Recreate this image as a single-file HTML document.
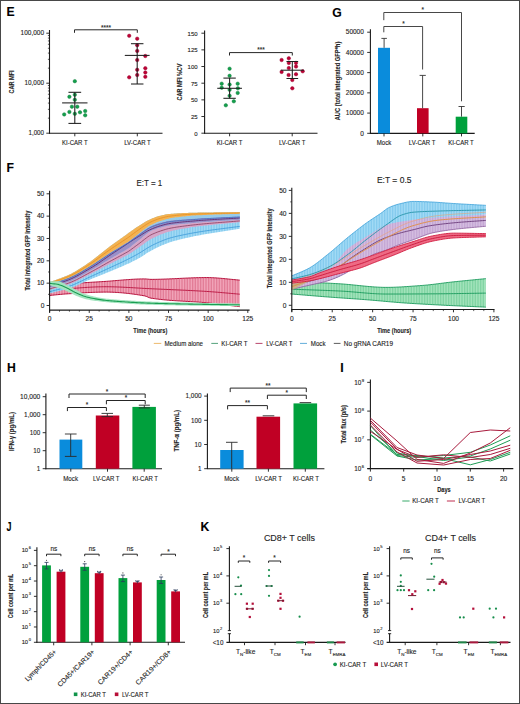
<!DOCTYPE html>
<html><head><meta charset="utf-8"><style>
html,body{margin:0;padding:0;background:#fff;}
svg{display:block;}
text{font-family:"Liberation Sans", sans-serif;stroke:#2a2a2a;stroke-width:0.12px;}
</style></head><body>
<svg width="520" height="704" viewBox="0 0 520 704">
<rect x="0" y="0" width="520" height="704" fill="#fff"/>
<text x="6.6" y="16.39" font-size="12.2" font-weight="bold" fill="#000">E</text>
<text x="332.2" y="16.79" font-size="12.2" font-weight="bold" fill="#000">G</text>
<text x="6.6" y="172.49" font-size="12.2" font-weight="bold" fill="#000">F</text>
<text x="6.9" y="372.29" font-size="12.2" font-weight="bold" fill="#000">H</text>
<text x="340.2" y="372.49" font-size="12.2" font-weight="bold" fill="#000">I</text>
<text x="6.5" y="531.29" font-size="12.2" font-weight="bold" fill="#000" textLength="5.0" lengthAdjust="spacingAndGlyphs">J</text>
<text x="200.4" y="530.79" font-size="12.2" font-weight="bold" fill="#000">K</text>
<line x1="49.5" y1="30" x2="49.5" y2="133.7" stroke="#1a1a1a" stroke-width="1.1" />
<line x1="49" y1="133.2" x2="162.5" y2="133.2" stroke="#1a1a1a" stroke-width="1.1" />
<line x1="46.3" y1="133.2" x2="49.5" y2="133.2" stroke="#1a1a1a" stroke-width="0.9" />
<line x1="47.9" y1="118.15" x2="49.5" y2="118.15" stroke="#1a1a1a" stroke-width="0.7" />
<line x1="47.9" y1="109.34" x2="49.5" y2="109.34" stroke="#1a1a1a" stroke-width="0.7" />
<line x1="47.9" y1="103.1" x2="49.5" y2="103.1" stroke="#1a1a1a" stroke-width="0.7" />
<line x1="47.9" y1="98.25" x2="49.5" y2="98.25" stroke="#1a1a1a" stroke-width="0.7" />
<line x1="47.9" y1="94.29" x2="49.5" y2="94.29" stroke="#1a1a1a" stroke-width="0.7" />
<line x1="47.9" y1="90.95" x2="49.5" y2="90.95" stroke="#1a1a1a" stroke-width="0.7" />
<line x1="47.9" y1="88.05" x2="49.5" y2="88.05" stroke="#1a1a1a" stroke-width="0.7" />
<line x1="47.9" y1="85.49" x2="49.5" y2="85.49" stroke="#1a1a1a" stroke-width="0.7" />
<line x1="46.3" y1="83.2" x2="49.5" y2="83.2" stroke="#1a1a1a" stroke-width="0.9" />
<line x1="47.9" y1="68.15" x2="49.5" y2="68.15" stroke="#1a1a1a" stroke-width="0.7" />
<line x1="47.9" y1="59.34" x2="49.5" y2="59.34" stroke="#1a1a1a" stroke-width="0.7" />
<line x1="47.9" y1="53.1" x2="49.5" y2="53.1" stroke="#1a1a1a" stroke-width="0.7" />
<line x1="47.9" y1="48.25" x2="49.5" y2="48.25" stroke="#1a1a1a" stroke-width="0.7" />
<line x1="47.9" y1="44.29" x2="49.5" y2="44.29" stroke="#1a1a1a" stroke-width="0.7" />
<line x1="47.9" y1="40.95" x2="49.5" y2="40.95" stroke="#1a1a1a" stroke-width="0.7" />
<line x1="47.9" y1="38.05" x2="49.5" y2="38.05" stroke="#1a1a1a" stroke-width="0.7" />
<line x1="47.9" y1="35.49" x2="49.5" y2="35.49" stroke="#1a1a1a" stroke-width="0.7" />
<line x1="46.3" y1="33.2" x2="49.5" y2="33.2" stroke="#1a1a1a" stroke-width="0.9" />
<text x="44" y="35.27" font-size="6.5" font-weight="normal" text-anchor="end" fill="#222" textLength="23.4" lengthAdjust="spacingAndGlyphs" >100,000</text>
<text x="44" y="85.28" font-size="6.5" font-weight="normal" text-anchor="end" fill="#222" textLength="19.5" lengthAdjust="spacingAndGlyphs" >10,000</text>
<text x="44" y="135.28" font-size="6.5" font-weight="normal" text-anchor="end" fill="#222" textLength="15.5" lengthAdjust="spacingAndGlyphs" >1,000</text>
<text x="11.2" y="84.45" font-size="7" font-weight="bold" text-anchor="middle" fill="#222" textLength="23" lengthAdjust="spacingAndGlyphs" transform="rotate(-90 11.2 82)" >CAR MFI</text>
<line x1="74.8" y1="133.2" x2="74.8" y2="136.3" stroke="#1a1a1a" stroke-width="0.9" />
<line x1="137.3" y1="133.2" x2="137.3" y2="136.3" stroke="#1a1a1a" stroke-width="0.9" />
<text x="74.8" y="144.68" font-size="6.5" font-weight="normal" text-anchor="middle" fill="#222" textLength="25.6" lengthAdjust="spacingAndGlyphs" >KI-CAR T</text>
<text x="137.5" y="144.68" font-size="6.5" font-weight="normal" text-anchor="middle" fill="#222" textLength="26.6" lengthAdjust="spacingAndGlyphs" >LV-CAR T</text>
<circle cx="74.8" cy="81.2" r="1.75" fill="#14a04c" stroke="#0f7a3c" stroke-width="0.45"/>
<circle cx="69.4" cy="96.8" r="1.75" fill="#14a04c" stroke="#0f7a3c" stroke-width="0.45"/>
<circle cx="74.8" cy="94.8" r="1.75" fill="#14a04c" stroke="#0f7a3c" stroke-width="0.45"/>
<circle cx="74.8" cy="99.8" r="1.75" fill="#14a04c" stroke="#0f7a3c" stroke-width="0.45"/>
<circle cx="71.9" cy="106.7" r="1.75" fill="#14a04c" stroke="#0f7a3c" stroke-width="0.45"/>
<circle cx="77.3" cy="106.7" r="1.75" fill="#14a04c" stroke="#0f7a3c" stroke-width="0.45"/>
<circle cx="69.4" cy="111.9" r="1.75" fill="#14a04c" stroke="#0f7a3c" stroke-width="0.45"/>
<circle cx="64.2" cy="114.4" r="1.75" fill="#14a04c" stroke="#0f7a3c" stroke-width="0.45"/>
<circle cx="74.8" cy="113.8" r="1.75" fill="#14a04c" stroke="#0f7a3c" stroke-width="0.45"/>
<circle cx="80" cy="112.3" r="1.75" fill="#14a04c" stroke="#0f7a3c" stroke-width="0.45"/>
<circle cx="85.2" cy="111" r="1.75" fill="#14a04c" stroke="#0f7a3c" stroke-width="0.45"/>
<circle cx="85.2" cy="115.3" r="1.75" fill="#14a04c" stroke="#0f7a3c" stroke-width="0.45"/>
<circle cx="129.2" cy="35.8" r="1.75" fill="#bd0336" stroke="#98002a" stroke-width="0.45"/>
<circle cx="137.2" cy="38.7" r="1.75" fill="#bd0336" stroke="#98002a" stroke-width="0.45"/>
<circle cx="137.2" cy="45.2" r="1.75" fill="#bd0336" stroke="#98002a" stroke-width="0.45"/>
<circle cx="137.2" cy="50.9" r="1.75" fill="#bd0336" stroke="#98002a" stroke-width="0.45"/>
<circle cx="145.3" cy="56" r="1.75" fill="#bd0336" stroke="#98002a" stroke-width="0.45"/>
<circle cx="137.2" cy="60" r="1.75" fill="#bd0336" stroke="#98002a" stroke-width="0.45"/>
<circle cx="137.2" cy="69.8" r="1.75" fill="#bd0336" stroke="#98002a" stroke-width="0.45"/>
<circle cx="137.2" cy="75" r="1.75" fill="#bd0336" stroke="#98002a" stroke-width="0.45"/>
<circle cx="145.3" cy="68.2" r="1.75" fill="#bd0336" stroke="#98002a" stroke-width="0.45"/>
<circle cx="145.3" cy="72.5" r="1.75" fill="#bd0336" stroke="#98002a" stroke-width="0.45"/>
<circle cx="145.3" cy="76.8" r="1.75" fill="#bd0336" stroke="#98002a" stroke-width="0.45"/>
<circle cx="129.2" cy="77.3" r="1.75" fill="#bd0336" stroke="#98002a" stroke-width="0.45"/>
<line x1="62.1" y1="102.9" x2="87.5" y2="102.9" stroke="#1e1e1e" stroke-width="1.05" />
<line x1="68.45" y1="92.3" x2="81.15" y2="92.3" stroke="#1e1e1e" stroke-width="1.05" />
<line x1="68.45" y1="123.4" x2="81.15" y2="123.4" stroke="#1e1e1e" stroke-width="1.05" />
<line x1="74.8" y1="92.3" x2="74.8" y2="123.4" stroke="#1e1e1e" stroke-width="1.05" />
<line x1="124.8" y1="55.4" x2="149.6" y2="55.4" stroke="#1e1e1e" stroke-width="1.05" />
<line x1="130.95" y1="43.7" x2="143.45" y2="43.7" stroke="#1e1e1e" stroke-width="1.05" />
<line x1="130.95" y1="84" x2="143.45" y2="84" stroke="#1e1e1e" stroke-width="1.05" />
<line x1="137.2" y1="43.7" x2="137.2" y2="84" stroke="#1e1e1e" stroke-width="1.05" />
<polyline points="74.5,32.8 74.5,29.8 137.3,29.8 137.3,32.8" fill="none" stroke="#262626" stroke-width="1" stroke-linejoin="round" />
<text x="106" y="29.5" font-size="6.4" font-weight="bold" text-anchor="middle" fill="#333" style="stroke:none">****</text>
<line x1="204.6" y1="30.4" x2="204.6" y2="133.7" stroke="#1a1a1a" stroke-width="1.1" />
<line x1="204.1" y1="133.2" x2="317.5" y2="133.2" stroke="#1a1a1a" stroke-width="1.1" />
<line x1="201.4" y1="133.2" x2="204.6" y2="133.2" stroke="#1a1a1a" stroke-width="0.9" />
<text x="197.6" y="135.6" font-size="6" font-weight="normal" text-anchor="end" fill="#222" >0</text>
<line x1="201.4" y1="116.53" x2="204.6" y2="116.53" stroke="#1a1a1a" stroke-width="0.9" />
<text x="197.6" y="118.93" font-size="6" font-weight="normal" text-anchor="end" fill="#222" >25</text>
<line x1="201.4" y1="99.87" x2="204.6" y2="99.87" stroke="#1a1a1a" stroke-width="0.9" />
<text x="197.6" y="102.27" font-size="6" font-weight="normal" text-anchor="end" fill="#222" >50</text>
<line x1="201.4" y1="83.2" x2="204.6" y2="83.2" stroke="#1a1a1a" stroke-width="0.9" />
<text x="197.6" y="85.6" font-size="6" font-weight="normal" text-anchor="end" fill="#222" >75</text>
<line x1="201.4" y1="66.53" x2="204.6" y2="66.53" stroke="#1a1a1a" stroke-width="0.9" />
<text x="197.6" y="68.93" font-size="6" font-weight="normal" text-anchor="end" fill="#222" >100</text>
<line x1="201.4" y1="49.87" x2="204.6" y2="49.87" stroke="#1a1a1a" stroke-width="0.9" />
<text x="197.6" y="52.27" font-size="6" font-weight="normal" text-anchor="end" fill="#222" >125</text>
<line x1="201.4" y1="33.2" x2="204.6" y2="33.2" stroke="#1a1a1a" stroke-width="0.9" />
<text x="197.6" y="35.6" font-size="6" font-weight="normal" text-anchor="end" fill="#222" >150</text>
<text x="179.2" y="84.45" font-size="7" font-weight="bold" text-anchor="middle" fill="#222" textLength="37" lengthAdjust="spacingAndGlyphs" transform="rotate(-90 179.2 82)" >CAR MFI %CV</text>
<line x1="229.6" y1="133.2" x2="229.6" y2="136.3" stroke="#1a1a1a" stroke-width="0.9" />
<line x1="292.2" y1="133.2" x2="292.2" y2="136.3" stroke="#1a1a1a" stroke-width="0.9" />
<text x="229.6" y="144.68" font-size="6.5" font-weight="normal" text-anchor="middle" fill="#222" textLength="25.6" lengthAdjust="spacingAndGlyphs" >KI-CAR T</text>
<text x="292.2" y="144.68" font-size="6.5" font-weight="normal" text-anchor="middle" fill="#222" textLength="26.6" lengthAdjust="spacingAndGlyphs" >LV-CAR T</text>
<circle cx="229.6" cy="68.7" r="1.75" fill="#14a04c" stroke="#0f7a3c" stroke-width="0.45"/>
<circle cx="229.6" cy="75.8" r="1.75" fill="#14a04c" stroke="#0f7a3c" stroke-width="0.45"/>
<circle cx="221.7" cy="83.7" r="1.75" fill="#14a04c" stroke="#0f7a3c" stroke-width="0.45"/>
<circle cx="221.7" cy="87.7" r="1.75" fill="#14a04c" stroke="#0f7a3c" stroke-width="0.45"/>
<circle cx="229.6" cy="84.6" r="1.75" fill="#14a04c" stroke="#0f7a3c" stroke-width="0.45"/>
<circle cx="229.6" cy="89.8" r="1.75" fill="#14a04c" stroke="#0f7a3c" stroke-width="0.45"/>
<circle cx="237.7" cy="83.7" r="1.75" fill="#14a04c" stroke="#0f7a3c" stroke-width="0.45"/>
<circle cx="237.9" cy="88.3" r="1.75" fill="#14a04c" stroke="#0f7a3c" stroke-width="0.45"/>
<circle cx="237.7" cy="92.9" r="1.75" fill="#14a04c" stroke="#0f7a3c" stroke-width="0.45"/>
<circle cx="229.6" cy="95.8" r="1.75" fill="#14a04c" stroke="#0f7a3c" stroke-width="0.45"/>
<circle cx="233.8" cy="101.3" r="1.75" fill="#14a04c" stroke="#0f7a3c" stroke-width="0.45"/>
<circle cx="225.8" cy="105.3" r="1.75" fill="#14a04c" stroke="#0f7a3c" stroke-width="0.45"/>
<circle cx="281.6" cy="60" r="1.75" fill="#bd0336" stroke="#98002a" stroke-width="0.45"/>
<circle cx="288.8" cy="58.3" r="1.75" fill="#bd0336" stroke="#98002a" stroke-width="0.45"/>
<circle cx="288.8" cy="62.9" r="1.75" fill="#bd0336" stroke="#98002a" stroke-width="0.45"/>
<circle cx="296" cy="62.9" r="1.75" fill="#bd0336" stroke="#98002a" stroke-width="0.45"/>
<circle cx="296" cy="66.6" r="1.75" fill="#bd0336" stroke="#98002a" stroke-width="0.45"/>
<circle cx="288.8" cy="68.1" r="1.75" fill="#bd0336" stroke="#98002a" stroke-width="0.45"/>
<circle cx="281.6" cy="71.9" r="1.75" fill="#bd0336" stroke="#98002a" stroke-width="0.45"/>
<circle cx="302.7" cy="71.3" r="1.75" fill="#bd0336" stroke="#98002a" stroke-width="0.45"/>
<circle cx="288.6" cy="75" r="1.75" fill="#bd0336" stroke="#98002a" stroke-width="0.45"/>
<circle cx="296" cy="74.2" r="1.75" fill="#bd0336" stroke="#98002a" stroke-width="0.45"/>
<circle cx="292.3" cy="80" r="1.75" fill="#bd0336" stroke="#98002a" stroke-width="0.45"/>
<circle cx="292.3" cy="88.3" r="1.75" fill="#bd0336" stroke="#98002a" stroke-width="0.45"/>
<line x1="217.25" y1="88.3" x2="241.95" y2="88.3" stroke="#1e1e1e" stroke-width="1.05" />
<line x1="223.4" y1="78.1" x2="235.8" y2="78.1" stroke="#1e1e1e" stroke-width="1.05" />
<line x1="223.4" y1="98.3" x2="235.8" y2="98.3" stroke="#1e1e1e" stroke-width="1.05" />
<line x1="229.6" y1="78.1" x2="229.6" y2="98.3" stroke="#1e1e1e" stroke-width="1.05" />
<line x1="280.8" y1="70.2" x2="303.8" y2="70.2" stroke="#1e1e1e" stroke-width="1.05" />
<line x1="286.45" y1="61.5" x2="298.15" y2="61.5" stroke="#1e1e1e" stroke-width="1.05" />
<line x1="286.45" y1="78.5" x2="298.15" y2="78.5" stroke="#1e1e1e" stroke-width="1.05" />
<line x1="292.3" y1="61.5" x2="292.3" y2="78.5" stroke="#1e1e1e" stroke-width="1.05" />
<polyline points="229.5,55.5 229.5,52.6 292.3,52.6 292.3,55.5" fill="none" stroke="#262626" stroke-width="1" stroke-linejoin="round" />
<text x="261" y="52.4" font-size="6.4" font-weight="bold" text-anchor="middle" fill="#333" style="stroke:none">***</text>
<line x1="370.4" y1="29.2" x2="370.4" y2="133.8" stroke="#1a1a1a" stroke-width="1.1" />
<line x1="369.9" y1="133.4" x2="474.7" y2="133.4" stroke="#1a1a1a" stroke-width="1.1" />
<line x1="367.2" y1="133.3" x2="370.4" y2="133.3" stroke="#1a1a1a" stroke-width="0.9" />
<text x="363.8" y="135.58" font-size="6.5" font-weight="normal" text-anchor="end" fill="#222" >0</text>
<line x1="367.2" y1="113.08" x2="370.4" y2="113.08" stroke="#1a1a1a" stroke-width="0.9" />
<text x="363.8" y="115.36" font-size="6.5" font-weight="normal" text-anchor="end" fill="#222" textLength="18" lengthAdjust="spacingAndGlyphs" >10000</text>
<line x1="367.2" y1="92.86" x2="370.4" y2="92.86" stroke="#1a1a1a" stroke-width="0.9" />
<text x="363.8" y="95.14" font-size="6.5" font-weight="normal" text-anchor="end" fill="#222" textLength="18" lengthAdjust="spacingAndGlyphs" >20000</text>
<line x1="367.2" y1="72.64" x2="370.4" y2="72.64" stroke="#1a1a1a" stroke-width="0.9" />
<text x="363.8" y="74.92" font-size="6.5" font-weight="normal" text-anchor="end" fill="#222" textLength="18" lengthAdjust="spacingAndGlyphs" >30000</text>
<line x1="367.2" y1="52.42" x2="370.4" y2="52.42" stroke="#1a1a1a" stroke-width="0.9" />
<text x="363.8" y="54.7" font-size="6.5" font-weight="normal" text-anchor="end" fill="#222" textLength="18" lengthAdjust="spacingAndGlyphs" >40000</text>
<line x1="367.2" y1="32.2" x2="370.4" y2="32.2" stroke="#1a1a1a" stroke-width="0.9" />
<text x="363.8" y="34.48" font-size="6.5" font-weight="normal" text-anchor="end" fill="#222" textLength="18" lengthAdjust="spacingAndGlyphs" >50000</text>
<text x="337.8" y="83.45" font-size="7" font-weight="bold" text-anchor="middle" fill="#222" textLength="78.6" lengthAdjust="spacingAndGlyphs" transform="rotate(-90 337.8 81)" >AUC (total integrated GFP*h)</text>
<rect x="378" y="47.8" width="12" height="85.6" fill="#0a8cdc"/>
<rect x="417" y="108.2" width="11.6" height="25.2" fill="#c00024"/>
<rect x="455.7" y="116.7" width="11.6" height="16.7" fill="#00a03c"/>
<line x1="384" y1="133.4" x2="384" y2="136.4" stroke="#1a1a1a" stroke-width="0.9" />
<line x1="422.8" y1="133.4" x2="422.8" y2="136.4" stroke="#1a1a1a" stroke-width="0.9" />
<line x1="461.5" y1="133.4" x2="461.5" y2="136.4" stroke="#1a1a1a" stroke-width="0.9" />
<line x1="384.1" y1="47.8" x2="384.1" y2="38.4" stroke="#333" stroke-width="0.9" />
<line x1="381.4" y1="38.4" x2="386.9" y2="38.4" stroke="#333" stroke-width="0.9" />
<line x1="422.6" y1="108.2" x2="422.6" y2="75.4" stroke="#333" stroke-width="0.9" />
<line x1="419.6" y1="75.4" x2="425.8" y2="75.4" stroke="#333" stroke-width="0.9" />
<line x1="461.5" y1="116.7" x2="461.5" y2="106.5" stroke="#333" stroke-width="0.9" />
<line x1="458.5" y1="106.5" x2="464.7" y2="106.5" stroke="#333" stroke-width="0.9" />
<polyline points="383.8,20.2 383.8,12.5 461.5,12.5 461.5,101.3" fill="none" stroke="#333" stroke-width="0.9" stroke-linejoin="round" />
<polyline points="383.8,32.3 383.8,26.5 422.6,26.5 422.6,69.5" fill="none" stroke="#333" stroke-width="0.9" stroke-linejoin="round" />
<text x="422.7" y="11.9" font-size="6.4" font-weight="bold" text-anchor="middle" fill="#333" style="stroke:none">*</text>
<text x="403.5" y="25.9" font-size="6.4" font-weight="bold" text-anchor="middle" fill="#333" style="stroke:none">*</text>
<text x="384" y="144.68" font-size="6.5" font-weight="normal" text-anchor="middle" fill="#222" textLength="14.5" lengthAdjust="spacingAndGlyphs" >Mock</text>
<text x="422.1" y="144.68" font-size="6.5" font-weight="normal" text-anchor="middle" fill="#222" textLength="26.6" lengthAdjust="spacingAndGlyphs" >LV-CAR T</text>
<text x="461" y="144.68" font-size="6.5" font-weight="normal" text-anchor="middle" fill="#222" textLength="25.6" lengthAdjust="spacingAndGlyphs" >KI-CAR T</text>
<defs><pattern id="pR" width="1.6" height="4" patternUnits="userSpaceOnUse"><rect width="1.6" height="4" fill="#f3a9bd"/><rect width="0.45" height="4" fill="#d0506f"/></pattern><pattern id="pB" width="1.6" height="4" patternUnits="userSpaceOnUse"><rect width="1.6" height="4" fill="#a6dcf6"/><rect width="0.45" height="4" fill="#62b8e6"/></pattern><pattern id="pG" width="1.6" height="4" patternUnits="userSpaceOnUse"><rect width="1.6" height="4" fill="#a8e6bf"/><rect width="0.45" height="4" fill="#58c287"/></pattern><pattern id="pP" width="1.6" height="4" patternUnits="userSpaceOnUse"><rect width="1.6" height="4" fill="#d6c0e2"/><rect width="0.45" height="4" fill="#b48fc8"/></pattern></defs>
<polygon points="49.5,288.07 51.09,287.72 52.67,287.34 54.26,286.95 55.84,286.55 57.43,286.15 59.01,285.77 60.6,285.4 62.18,285.06 63.77,284.76 65.36,284.49 66.94,284.28 68.53,284.09 70.11,283.92 71.7,283.76 73.28,283.6 74.87,283.46 76.46,283.32 78.04,283.18 79.63,283.06 81.21,282.94 82.8,282.82 84.38,282.71 85.97,282.61 87.55,282.5 89.14,282.4 90.73,282.31 92.31,282.21 93.9,282.12 95.48,282.02 97.07,281.93 98.65,281.83 100.24,281.73 101.82,281.63 103.41,281.53 105,281.43 106.58,281.32 108.17,281.2 109.75,281.08 111.34,280.96 112.92,280.83 114.51,280.7 116.1,280.56 117.68,280.43 119.27,280.3 120.85,280.16 122.44,280.03 124.02,279.9 125.61,279.78 127.19,279.66 128.78,279.55 130.37,279.44 131.95,279.34 133.54,279.25 135.12,279.16 136.71,279.09 138.29,279.03 139.88,278.98 141.46,278.95 143.05,278.92 144.64,278.92 146.22,278.99 147.81,279.14 149.39,279.29 150.98,279.36 152.56,279.36 154.15,279.35 155.74,279.33 157.32,279.3 158.91,279.26 160.49,279.22 162.08,279.18 163.66,279.12 165.25,279.07 166.83,279.01 168.42,278.94 170.01,278.88 171.59,278.81 173.18,278.73 174.76,278.66 176.35,278.58 177.93,278.51 179.52,278.43 181.1,278.35 182.69,278.28 184.28,278.2 185.86,278.13 187.45,278.06 189.03,277.99 190.62,277.93 192.2,277.87 193.79,277.81 195.38,277.76 196.96,277.71 198.55,277.67 200.13,277.64 201.72,277.61 203.3,277.59 204.89,277.58 206.47,277.57 208.06,277.59 209.65,277.62 211.23,277.67 212.82,277.74 214.4,277.82 215.99,277.92 217.57,278.03 219.16,278.16 220.74,278.29 222.33,278.43 223.92,278.58 225.5,278.74 227.09,278.89 228.67,279.06 230.26,279.22 231.84,279.38 233.43,279.54 235.02,279.7 236.6,279.85 238.19,279.99 239.77,280.13 239.77,306.66 238.19,306.47 236.6,306.28 235.02,306.09 233.43,305.9 231.84,305.71 230.26,305.52 228.67,305.33 227.09,305.14 225.5,304.95 223.92,304.76 222.33,304.57 220.74,304.38 219.16,304.2 217.57,304.01 215.99,303.83 214.4,303.65 212.82,303.48 211.23,303.31 209.65,303.14 208.06,302.98 206.47,302.82 204.89,302.67 203.3,302.52 201.72,302.39 200.13,302.26 198.55,302.14 196.96,302.03 195.38,301.92 193.79,301.82 192.2,301.71 190.62,301.62 189.03,301.52 187.45,301.43 185.86,301.34 184.28,301.25 182.69,301.15 181.1,301.06 179.52,300.97 177.93,300.87 176.35,300.77 174.76,300.66 173.18,300.55 171.59,300.44 170.01,300.32 168.42,300.19 166.83,300.06 165.25,299.91 163.66,299.76 162.08,299.6 160.49,299.42 158.91,299.24 157.32,299.04 155.74,298.84 154.15,298.61 152.56,298.38 150.98,298.13 149.39,297.69 147.81,297.02 146.22,296.35 144.64,295.89 143.05,295.62 141.46,295.35 139.88,295.09 138.29,294.84 136.71,294.59 135.12,294.36 133.54,294.14 131.95,293.92 130.37,293.72 128.78,293.53 127.19,293.35 125.61,293.18 124.02,293.02 122.44,292.87 120.85,292.73 119.27,292.61 117.68,292.5 116.1,292.4 114.51,292.32 112.92,292.24 111.34,292.19 109.75,292.14 108.17,292.11 106.58,292.1 105,292.1 103.41,292.11 101.82,292.13 100.24,292.15 98.65,292.19 97.07,292.23 95.48,292.28 93.9,292.34 92.31,292.4 90.73,292.47 89.14,292.54 87.55,292.62 85.97,292.7 84.38,292.79 82.8,292.88 81.21,292.97 79.63,293.07 78.04,293.17 76.46,293.27 74.87,293.37 73.28,293.47 71.7,293.58 70.11,293.68 68.53,293.78 66.94,293.88 65.36,293.99 63.77,294.11 62.18,294.24 60.6,294.38 59.01,294.53 57.43,294.68 55.84,294.84 54.26,295 52.67,295.15 51.09,295.3 49.5,295.45" fill="url(#pR)" stroke="none" stroke-width="1" fill-opacity="1.0"/>
<polyline points="49.5,288.07 51.09,287.72 52.67,287.34 54.26,286.95 55.84,286.55 57.43,286.15 59.01,285.77 60.6,285.4 62.18,285.06 63.77,284.76 65.36,284.49 66.94,284.28 68.53,284.09 70.11,283.92 71.7,283.76 73.28,283.6 74.87,283.46 76.46,283.32 78.04,283.18 79.63,283.06 81.21,282.94 82.8,282.82 84.38,282.71 85.97,282.61 87.55,282.5 89.14,282.4 90.73,282.31 92.31,282.21 93.9,282.12 95.48,282.02 97.07,281.93 98.65,281.83 100.24,281.73 101.82,281.63 103.41,281.53 105,281.43 106.58,281.32 108.17,281.2 109.75,281.08 111.34,280.96 112.92,280.83 114.51,280.7 116.1,280.56 117.68,280.43 119.27,280.3 120.85,280.16 122.44,280.03 124.02,279.9 125.61,279.78 127.19,279.66 128.78,279.55 130.37,279.44 131.95,279.34 133.54,279.25 135.12,279.16 136.71,279.09 138.29,279.03 139.88,278.98 141.46,278.95 143.05,278.92 144.64,278.92 146.22,278.99 147.81,279.14 149.39,279.29 150.98,279.36 152.56,279.36 154.15,279.35 155.74,279.33 157.32,279.3 158.91,279.26 160.49,279.22 162.08,279.18 163.66,279.12 165.25,279.07 166.83,279.01 168.42,278.94 170.01,278.88 171.59,278.81 173.18,278.73 174.76,278.66 176.35,278.58 177.93,278.51 179.52,278.43 181.1,278.35 182.69,278.28 184.28,278.2 185.86,278.13 187.45,278.06 189.03,277.99 190.62,277.93 192.2,277.87 193.79,277.81 195.38,277.76 196.96,277.71 198.55,277.67 200.13,277.64 201.72,277.61 203.3,277.59 204.89,277.58 206.47,277.57 208.06,277.59 209.65,277.62 211.23,277.67 212.82,277.74 214.4,277.82 215.99,277.92 217.57,278.03 219.16,278.16 220.74,278.29 222.33,278.43 223.92,278.58 225.5,278.74 227.09,278.89 228.67,279.06 230.26,279.22 231.84,279.38 233.43,279.54 235.02,279.7 236.6,279.85 238.19,279.99 239.77,280.13" fill="none" stroke="#b8103c" stroke-width="1" stroke-linejoin="round" stroke-opacity="1.0"/>
<polyline points="49.5,295.45 51.09,295.3 52.67,295.15 54.26,295 55.84,294.84 57.43,294.68 59.01,294.53 60.6,294.38 62.18,294.24 63.77,294.11 65.36,293.99 66.94,293.88 68.53,293.78 70.11,293.68 71.7,293.58 73.28,293.47 74.87,293.37 76.46,293.27 78.04,293.17 79.63,293.07 81.21,292.97 82.8,292.88 84.38,292.79 85.97,292.7 87.55,292.62 89.14,292.54 90.73,292.47 92.31,292.4 93.9,292.34 95.48,292.28 97.07,292.23 98.65,292.19 100.24,292.15 101.82,292.13 103.41,292.11 105,292.1 106.58,292.1 108.17,292.11 109.75,292.14 111.34,292.19 112.92,292.24 114.51,292.32 116.1,292.4 117.68,292.5 119.27,292.61 120.85,292.73 122.44,292.87 124.02,293.02 125.61,293.18 127.19,293.35 128.78,293.53 130.37,293.72 131.95,293.92 133.54,294.14 135.12,294.36 136.71,294.59 138.29,294.84 139.88,295.09 141.46,295.35 143.05,295.62 144.64,295.89 146.22,296.35 147.81,297.02 149.39,297.69 150.98,298.13 152.56,298.38 154.15,298.61 155.74,298.84 157.32,299.04 158.91,299.24 160.49,299.42 162.08,299.6 163.66,299.76 165.25,299.91 166.83,300.06 168.42,300.19 170.01,300.32 171.59,300.44 173.18,300.55 174.76,300.66 176.35,300.77 177.93,300.87 179.52,300.97 181.1,301.06 182.69,301.15 184.28,301.25 185.86,301.34 187.45,301.43 189.03,301.52 190.62,301.62 192.2,301.71 193.79,301.82 195.38,301.92 196.96,302.03 198.55,302.14 200.13,302.26 201.72,302.39 203.3,302.52 204.89,302.67 206.47,302.82 208.06,302.98 209.65,303.14 211.23,303.31 212.82,303.48 214.4,303.65 215.99,303.83 217.57,304.01 219.16,304.2 220.74,304.38 222.33,304.57 223.92,304.76 225.5,304.95 227.09,305.14 228.67,305.33 230.26,305.52 231.84,305.71 233.43,305.9 235.02,306.09 236.6,306.28 238.19,306.47 239.77,306.66" fill="none" stroke="#b8103c" stroke-width="1" stroke-linejoin="round" stroke-opacity="1.0"/>
<polyline points="49.5,291.65 51.09,291.4 52.67,291.13 54.26,290.86 55.84,290.58 57.43,290.3 59.01,290.03 60.6,289.78 62.18,289.54 63.77,289.32 65.36,289.13 66.94,288.97 68.53,288.83 70.11,288.69 71.7,288.55 73.28,288.41 74.87,288.28 76.46,288.15 78.04,288.02 79.63,287.9 81.21,287.78 82.8,287.66 84.38,287.55 85.97,287.45 87.55,287.35 89.14,287.25 90.73,287.16 92.31,287.08 93.9,287.01 95.48,286.94 97.07,286.89 98.65,286.84 100.24,286.8 101.82,286.77 103.41,286.75 105,286.74 106.58,286.74 108.17,286.75 109.75,286.76 111.34,286.79 112.92,286.83 114.51,286.87 116.1,286.92 117.68,286.97 119.27,287.03 120.85,287.1 122.44,287.17 124.02,287.25 125.61,287.33 127.19,287.41 128.78,287.5 130.37,287.59 131.95,287.68 133.54,287.77 135.12,287.87 136.71,287.96 138.29,288.06 139.88,288.15 141.46,288.24 143.05,288.33 144.64,288.42 146.22,288.51 147.81,288.59 149.39,288.67 150.98,288.75 152.56,288.82 154.15,288.89 155.74,288.96 157.32,289.03 158.91,289.1 160.49,289.17 162.08,289.24 163.66,289.31 165.25,289.38 166.83,289.45 168.42,289.52 170.01,289.59 171.59,289.66 173.18,289.73 174.76,289.8 176.35,289.87 177.93,289.94 179.52,290.01 181.1,290.08 182.69,290.16 184.28,290.23 185.86,290.31 187.45,290.38 189.03,290.46 190.62,290.54 192.2,290.62 193.79,290.7 195.38,290.79 196.96,290.87 198.55,290.96 200.13,291.05 201.72,291.14 203.3,291.23 204.89,291.33 206.47,291.43 208.06,291.53 209.65,291.64 211.23,291.75 212.82,291.87 214.4,291.99 215.99,292.11 217.57,292.24 219.16,292.37 220.74,292.51 222.33,292.65 223.92,292.79 225.5,292.93 227.09,293.07 228.67,293.21 230.26,293.36 231.84,293.5 233.43,293.64 235.02,293.78 236.6,293.92 238.19,294.06 239.77,294.2" fill="none" stroke="#b8103c" stroke-width="0.9" stroke-linejoin="round" stroke-opacity="1.0"/>
<polygon points="49.5,282.27 51.09,281.66 52.67,281.07 54.26,280.49 55.84,279.91 57.43,279.34 59.01,278.77 60.6,278.18 62.18,277.59 63.77,276.97 65.36,276.33 66.94,275.66 68.53,274.96 70.11,274.22 71.7,273.44 73.28,272.6 74.87,271.72 76.46,270.8 78.04,269.84 79.63,268.85 81.21,267.84 82.8,266.8 84.38,265.74 85.97,264.66 87.55,263.58 89.14,262.49 90.73,261.38 92.31,260.24 93.9,259.06 95.48,257.84 97.07,256.59 98.65,255.33 100.24,254.05 101.82,252.76 103.41,251.48 105,250.21 106.58,248.95 108.17,247.73 109.75,246.52 111.34,245.34 112.92,244.18 114.51,243.03 116.1,241.89 117.68,240.76 119.27,239.63 120.85,238.5 122.44,237.38 124.02,236.26 125.61,235.13 127.19,233.99 128.78,232.84 130.37,231.69 131.95,230.54 133.54,229.41 135.12,228.3 136.71,227.23 138.29,226.19 139.88,225.17 141.46,224.16 143.05,223.16 144.64,222.19 146.22,221.26 147.81,220.4 149.39,219.63 150.98,218.93 152.56,218.27 154.15,217.67 155.74,217.1 157.32,216.58 158.91,216.11 160.49,215.69 162.08,215.31 163.66,214.96 165.25,214.62 166.83,214.34 168.42,214.1 170.01,213.91 171.59,213.76 173.18,213.63 174.76,213.51 176.35,213.4 177.93,213.31 179.52,213.22 181.1,213.15 182.69,213.08 184.28,213.01 185.86,212.95 187.45,212.9 189.03,212.84 190.62,212.79 192.2,212.75 193.79,212.7 195.38,212.66 196.96,212.63 198.55,212.59 200.13,212.57 201.72,212.54 203.3,212.51 204.89,212.49 206.47,212.47 208.06,212.45 209.65,212.43 211.23,212.41 212.82,212.39 214.4,212.37 215.99,212.35 217.57,212.34 219.16,212.32 220.74,212.31 222.33,212.29 223.92,212.28 225.5,212.26 227.09,212.25 228.67,212.23 230.26,212.22 231.84,212.2 233.43,212.19 235.02,212.17 236.6,212.15 238.19,212.14 239.77,212.12 239.77,228.87 238.19,229.12 236.6,229.37 235.02,229.61 233.43,229.85 231.84,230.09 230.26,230.33 228.67,230.57 227.09,230.8 225.5,231.04 223.92,231.27 222.33,231.51 220.74,231.75 219.16,231.99 217.57,232.23 215.99,232.47 214.4,232.72 212.82,232.97 211.23,233.22 209.65,233.48 208.06,233.74 206.47,234.01 204.89,234.28 203.3,234.56 201.72,234.84 200.13,235.13 198.55,235.43 196.96,235.73 195.38,236.05 193.79,236.37 192.2,236.7 190.62,237.04 189.03,237.39 187.45,237.75 185.86,238.11 184.28,238.48 182.69,238.86 181.1,239.23 179.52,239.62 177.93,240.02 176.35,240.43 174.76,240.86 173.18,241.31 171.59,241.78 170.01,242.28 168.42,242.82 166.83,243.41 165.25,244.03 163.66,244.7 162.08,245.37 160.49,246.08 158.91,246.79 157.32,247.54 155.74,248.31 154.15,249.11 152.56,249.93 150.98,250.78 149.39,251.67 147.81,252.61 146.22,253.61 144.64,254.64 143.05,255.68 141.46,256.7 139.88,257.66 138.29,258.59 136.71,259.45 135.12,260.27 133.54,261.08 131.95,261.86 130.37,262.63 128.78,263.38 127.19,264.12 125.61,264.84 124.02,265.55 122.44,266.25 120.85,266.94 119.27,267.61 117.68,268.28 116.1,268.93 114.51,269.59 112.92,270.24 111.34,270.89 109.75,271.54 108.17,272.2 106.58,272.84 105,273.49 103.41,274.13 101.82,274.76 100.24,275.4 98.65,276.04 97.07,276.67 95.48,277.31 93.9,277.95 92.31,278.6 90.73,279.26 89.14,279.92 87.55,280.61 85.97,281.32 84.38,282.05 82.8,282.78 81.21,283.51 79.63,284.24 78.04,284.95 76.46,285.65 74.87,286.31 73.28,286.94 71.7,287.53 70.11,288.07 68.53,288.57 66.94,289.05 65.36,289.49 63.77,289.92 62.18,290.33 60.6,290.73 59.01,291.11 57.43,291.49 55.84,291.87 54.26,292.25 52.67,292.64 51.09,293.04 49.5,293.44" fill="url(#pB)" stroke="none" stroke-width="1" fill-opacity="1.0"/>
<polygon points="49.5,287.85 51.09,287.35 52.67,286.85 54.26,286.37 55.84,285.89 57.43,285.42 59.01,284.94 60.6,284.45 62.18,283.96 63.77,283.44 65.36,282.91 66.94,282.35 68.53,281.77 70.11,281.15 71.7,280.49 73.28,279.77 74.87,279.02 76.46,278.22 78.04,277.4 79.63,276.55 81.21,275.67 82.8,274.79 84.38,273.89 85.97,272.99 87.55,272.09 89.14,271.21 90.73,270.32 92.31,269.42 93.9,268.51 95.48,267.57 97.07,266.63 98.65,265.68 100.24,264.72 101.82,263.76 103.41,262.8 105,261.85 106.58,260.9 108.17,259.96 109.75,259.03 111.34,258.12 112.92,257.21 114.51,256.31 116.1,255.41 117.68,254.52 119.27,253.62 120.85,252.72 122.44,251.82 124.02,250.91 125.61,249.99 127.19,249.08 128.78,248.11 130.37,246.9 131.95,245.6 133.54,244.33 135.12,243.06 136.71,241.79 138.29,240.52 139.88,239.23 141.46,237.92 143.05,236.6 144.64,235.29 146.22,234 147.81,232.79 149.39,231.68 150.98,230.75 152.56,230.07 154.15,229.48 155.74,228.89 157.32,228.35 158.91,227.85 160.49,227.38 162.08,226.94 163.66,226.53 165.25,226.14 166.83,225.78 168.42,225.47 170.01,225.21 171.59,224.98 173.18,224.78 174.76,224.59 176.35,224.41 177.93,224.25 179.52,224.1 181.1,223.95 182.69,223.81 184.28,223.67 185.86,223.54 187.45,223.41 189.03,223.29 190.62,223.17 192.2,223.05 193.79,222.9 195.38,222.75 196.96,222.61 198.55,222.47 200.13,222.34 201.72,222.22 203.3,222.1 204.89,221.98 206.47,221.86 208.06,221.75 209.65,221.63 211.23,221.52 212.82,221.42 214.4,221.31 215.99,221.21 217.57,221.1 219.16,221 220.74,220.9 222.33,220.8 223.92,220.7 225.5,220.6 227.09,220.5 228.67,220.4 230.26,220.29 231.84,220.19 233.43,220.09 235.02,219.98 236.6,219.88 238.19,219.77 239.77,219.66 239.77,222.17 238.19,222.33 236.6,222.48 235.02,222.63 233.43,222.79 231.84,222.93 230.26,223.08 228.67,223.23 227.09,223.38 225.5,223.53 223.92,223.67 222.33,223.82 220.74,223.97 219.16,224.12 217.57,224.27 215.99,224.43 214.4,224.58 212.82,224.74 211.23,224.9 209.65,225.06 208.06,225.22 206.47,225.39 204.89,225.56 203.3,225.74 201.72,225.92 200.13,226.1 198.55,226.29 196.96,226.49 195.38,226.69 193.79,226.9 192.2,227.12 190.62,227.37 189.03,227.63 187.45,227.89 185.86,228.16 184.28,228.44 182.69,228.72 181.1,229.01 179.52,229.3 177.93,229.61 176.35,229.93 174.76,230.26 173.18,230.61 171.59,230.98 170.01,231.38 168.42,231.82 166.83,232.3 165.25,232.84 163.66,233.41 162.08,233.99 160.49,234.61 158.91,235.25 157.32,235.92 155.74,236.64 154.15,237.38 152.56,238.15 150.98,238.98 149.39,239.92 147.81,240.94 146.22,242.06 144.64,243.22 143.05,244.4 141.46,245.59 139.88,246.74 138.29,247.86 136.71,248.95 135.12,250.02 133.54,251.09 131.95,252.14 130.37,253.21 128.78,254.22 127.19,255.1 125.61,255.93 124.02,256.77 122.44,257.59 120.85,258.41 119.27,259.22 117.68,260.02 116.1,260.82 114.51,261.62 112.92,262.42 111.34,263.23 109.75,264.04 108.17,264.85 106.58,265.68 105,266.5 103.41,267.33 101.82,268.16 100.24,268.99 98.65,269.82 97.07,270.65 95.48,271.47 93.9,272.29 92.31,273.09 90.73,273.89 89.14,274.69 87.55,275.5 85.97,276.32 84.38,277.15 82.8,277.98 81.21,278.81 79.63,279.62 78.04,280.42 76.46,281.19 74.87,281.94 73.28,282.64 71.7,283.31 70.11,283.92 68.53,284.49 66.94,285.03 65.36,285.54 63.77,286.03 62.18,286.51 60.6,286.96 59.01,287.41 57.43,287.85 55.84,288.29 54.26,288.72 52.67,289.17 51.09,289.62 49.5,290.09" fill="#d6a6c8" stroke="none" stroke-width="1" fill-opacity="1.0"/>
<polygon points="49.5,284.5 51.09,283.96 52.67,283.42 54.26,282.9 55.84,282.38 57.43,281.87 59.01,281.36 60.6,280.84 62.18,280.3 63.77,279.75 65.36,279.18 66.94,278.59 68.53,277.96 70.11,277.29 71.7,276.59 73.28,275.83 74.87,275.03 76.46,274.19 78.04,273.32 79.63,272.42 81.21,271.49 82.8,270.55 84.38,269.6 85.97,268.63 87.55,267.66 89.14,266.7 90.73,265.73 92.31,264.74 93.9,263.72 95.48,262.67 97.07,261.61 98.65,260.54 100.24,259.45 101.82,258.36 103.41,257.28 105,256.2 106.58,255.14 108.17,254.1 109.75,253.08 111.34,252.08 112.92,251.09 114.51,250.11 116.1,249.14 117.68,248.17 119.27,247.21 120.85,246.25 122.44,245.29 124.02,244.33 125.61,243.36 127.19,242.4 128.78,241.39 130.37,240.24 131.95,239.03 133.54,237.86 135.12,236.69 136.71,235.54 138.29,234.4 139.88,233.26 141.46,232.11 143.05,230.96 144.64,229.83 146.22,228.73 147.81,227.7 149.39,226.77 150.98,225.95 152.56,225.28 154.15,224.67 155.74,224.09 157.32,223.55 158.91,223.05 160.49,222.6 162.08,222.18 163.66,221.78 165.25,221.41 166.83,221.08 168.42,220.79 170.01,220.55 171.59,220.35 173.18,220.17 174.76,220.01 176.35,219.85 177.93,219.71 179.52,219.58 181.1,219.46 182.69,219.35 184.28,219.23 185.86,219.13 187.45,219.02 189.03,218.92 190.62,218.83 192.2,218.73 193.79,218.62 195.38,218.51 196.96,218.4 198.55,218.3 200.13,218.21 201.72,218.11 203.3,218.02 204.89,217.94 206.47,217.85 208.06,217.77 209.65,217.69 211.23,217.61 212.82,217.53 214.4,217.46 215.99,217.38 217.57,217.31 219.16,217.24 220.74,217.17 222.33,217.1 223.92,217.02 225.5,216.95 227.09,216.88 228.67,216.81 230.26,216.74 231.84,216.67 233.43,216.6 235.02,216.53 236.6,216.46 238.19,216.38 239.77,216.31 239.77,219.66 238.19,219.77 236.6,219.88 235.02,219.98 233.43,220.09 231.84,220.19 230.26,220.29 228.67,220.4 227.09,220.5 225.5,220.6 223.92,220.7 222.33,220.8 220.74,220.9 219.16,221 217.57,221.1 215.99,221.21 214.4,221.31 212.82,221.42 211.23,221.52 209.65,221.63 208.06,221.75 206.47,221.86 204.89,221.98 203.3,222.1 201.72,222.22 200.13,222.34 198.55,222.47 196.96,222.61 195.38,222.75 193.79,222.9 192.2,223.05 190.62,223.17 189.03,223.29 187.45,223.41 185.86,223.54 184.28,223.67 182.69,223.81 181.1,223.95 179.52,224.1 177.93,224.25 176.35,224.41 174.76,224.59 173.18,224.78 171.59,224.98 170.01,225.21 168.42,225.47 166.83,225.78 165.25,226.14 163.66,226.53 162.08,226.94 160.49,227.38 158.91,227.85 157.32,228.35 155.74,228.89 154.15,229.48 152.56,230.07 150.98,230.75 149.39,231.68 147.81,232.79 146.22,234 144.64,235.29 143.05,236.6 141.46,237.92 139.88,239.23 138.29,240.52 136.71,241.79 135.12,243.06 133.54,244.33 131.95,245.6 130.37,246.9 128.78,248.11 127.19,249.08 125.61,249.99 124.02,250.91 122.44,251.82 120.85,252.72 119.27,253.62 117.68,254.52 116.1,255.41 114.51,256.31 112.92,257.21 111.34,258.12 109.75,259.03 108.17,259.96 106.58,260.9 105,261.85 103.41,262.8 101.82,263.76 100.24,264.72 98.65,265.68 97.07,266.63 95.48,267.57 93.9,268.51 92.31,269.42 90.73,270.32 89.14,271.21 87.55,272.09 85.97,272.99 84.38,273.89 82.8,274.79 81.21,275.67 79.63,276.55 78.04,277.4 76.46,278.22 74.87,279.02 73.28,279.77 71.7,280.49 70.11,281.15 68.53,281.77 66.94,282.35 65.36,282.91 63.77,283.44 62.18,283.96 60.6,284.45 59.01,284.94 57.43,285.42 55.84,285.89 54.26,286.37 52.67,286.85 51.09,287.35 49.5,287.85" fill="#9a90c8" stroke="none" stroke-width="1" fill-opacity="1.0"/>
<polygon points="49.5,284.5 51.09,283.96 52.67,283.42 54.26,282.9 55.84,282.38 57.43,281.87 59.01,281.36 60.6,280.84 62.18,280.3 63.77,279.75 65.36,279.18 66.94,278.59 68.53,277.96 70.11,277.29 71.7,276.59 73.28,275.83 74.87,275.03 76.46,274.19 78.04,273.32 79.63,272.42 81.21,271.49 82.8,270.55 84.38,269.6 85.97,268.63 87.55,267.66 89.14,266.7 90.73,265.73 92.31,264.74 93.9,263.72 95.48,262.67 97.07,261.61 98.65,260.54 100.24,259.45 101.82,258.36 103.41,257.28 105,256.2 106.58,255.14 108.17,254.1 109.75,253.08 111.34,252.08 112.92,251.09 114.51,250.11 116.1,249.14 117.68,248.17 119.27,247.21 120.85,246.25 122.44,245.29 124.02,244.33 125.61,243.36 127.19,242.41 128.78,241.39 130.37,240.18 131.95,238.89 133.54,237.64 135.12,236.4 136.71,235.18 138.29,233.97 139.88,232.75 141.46,231.53 143.05,230.31 144.64,229.11 146.22,227.94 147.81,226.84 149.39,225.84 150.98,224.94 152.56,224.15 154.15,223.43 155.74,222.74 157.32,222.09 158.91,221.5 160.49,220.94 162.08,220.43 163.66,219.94 165.25,219.48 166.83,219.05 168.42,218.68 170.01,218.36 171.59,218.08 173.18,217.83 174.76,217.59 176.35,217.36 177.93,217.15 179.52,216.95 181.1,216.76 182.69,216.58 184.28,216.4 185.86,216.24 187.45,216.07 189.03,215.92 190.62,215.76 192.2,215.62 193.79,215.52 195.38,215.44 196.96,215.35 198.55,215.27 200.13,215.2 201.72,215.13 203.3,215.06 204.89,214.99 206.47,214.92 208.06,214.86 209.65,214.8 211.23,214.74 212.82,214.68 214.4,214.62 215.99,214.57 217.57,214.51 219.16,214.46 220.74,214.41 222.33,214.35 223.92,214.3 225.5,214.25 227.09,214.2 228.67,214.15 230.26,214.1 231.84,214.05 233.43,214 235.02,213.95 236.6,213.9 238.19,213.85 239.77,213.79 239.77,216.31 238.19,216.38 236.6,216.46 235.02,216.53 233.43,216.6 231.84,216.67 230.26,216.74 228.67,216.81 227.09,216.88 225.5,216.95 223.92,217.02 222.33,217.1 220.74,217.17 219.16,217.24 217.57,217.31 215.99,217.38 214.4,217.46 212.82,217.53 211.23,217.61 209.65,217.69 208.06,217.77 206.47,217.85 204.89,217.94 203.3,218.02 201.72,218.11 200.13,218.21 198.55,218.3 196.96,218.4 195.38,218.51 193.79,218.62 192.2,218.73 190.62,218.83 189.03,218.92 187.45,219.02 185.86,219.13 184.28,219.23 182.69,219.35 181.1,219.46 179.52,219.58 177.93,219.71 176.35,219.85 174.76,220.01 173.18,220.17 171.59,220.35 170.01,220.55 168.42,220.79 166.83,221.08 165.25,221.41 163.66,221.78 162.08,222.18 160.49,222.6 158.91,223.05 157.32,223.55 155.74,224.09 154.15,224.67 152.56,225.28 150.98,225.95 149.39,226.77 147.81,227.7 146.22,228.73 144.64,229.83 143.05,230.96 141.46,232.11 139.88,233.26 138.29,234.4 136.71,235.54 135.12,236.69 133.54,237.86 131.95,239.03 130.37,240.24 128.78,241.39 127.19,242.4 125.61,243.36 124.02,244.33 122.44,245.29 120.85,246.25 119.27,247.21 117.68,248.17 116.1,249.14 114.51,250.11 112.92,251.09 111.34,252.08 109.75,253.08 108.17,254.1 106.58,255.14 105,256.2 103.41,257.28 101.82,258.36 100.24,259.45 98.65,260.54 97.07,261.61 95.48,262.67 93.9,263.72 92.31,264.74 90.73,265.73 89.14,266.7 87.55,267.66 85.97,268.63 84.38,269.6 82.8,270.55 81.21,271.49 79.63,272.42 78.04,273.32 76.46,274.19 74.87,275.03 73.28,275.83 71.7,276.59 70.11,277.29 68.53,277.96 66.94,278.59 65.36,279.18 63.77,279.75 62.18,280.3 60.6,280.84 59.01,281.36 57.43,281.87 55.84,282.38 54.26,282.9 52.67,283.42 51.09,283.96 49.5,284.5" fill="#96cbea" stroke="none" stroke-width="1" fill-opacity="1.0"/>
<polygon points="49.5,282.27 51.09,281.66 52.67,281.07 54.26,280.49 55.84,279.91 57.43,279.34 59.01,278.77 60.6,278.18 62.18,277.59 63.77,276.97 65.36,276.33 66.94,275.66 68.53,274.96 70.11,274.22 71.7,273.44 73.28,272.6 74.87,271.72 76.46,270.8 78.04,269.84 79.63,268.85 81.21,267.84 82.8,266.8 84.38,265.74 85.97,264.66 87.55,263.58 89.14,262.49 90.73,261.38 92.31,260.24 93.9,259.06 95.48,257.84 97.07,256.59 98.65,255.33 100.24,254.05 101.82,252.76 103.41,251.48 105,250.21 106.58,248.95 108.17,247.73 109.75,246.52 111.34,245.34 112.92,244.18 114.51,243.03 116.1,241.89 117.68,240.76 119.27,239.63 120.85,238.5 122.44,237.38 124.02,236.26 125.61,235.13 127.19,233.99 128.78,232.84 130.37,231.69 131.95,230.54 133.54,229.41 135.12,228.3 136.71,227.23 138.29,226.19 139.88,225.17 141.46,224.16 143.05,223.16 144.64,222.19 146.22,221.26 147.81,220.4 149.39,219.63 150.98,218.93 152.56,218.27 154.15,217.67 155.74,217.1 157.32,216.58 158.91,216.11 160.49,215.69 162.08,215.31 163.66,214.96 165.25,214.62 166.83,214.34 168.42,214.1 170.01,213.91 171.59,213.76 173.18,213.63 174.76,213.51 176.35,213.4 177.93,213.31 179.52,213.22 181.1,213.15 182.69,213.08 184.28,213.01 185.86,212.95 187.45,212.9 189.03,212.84 190.62,212.79 192.2,212.75 193.79,212.7 195.38,212.66 196.96,212.63 198.55,212.59 200.13,212.57 201.72,212.54 203.3,212.51 204.89,212.49 206.47,212.47 208.06,212.45 209.65,212.43 211.23,212.41 212.82,212.39 214.4,212.37 215.99,212.35 217.57,212.34 219.16,212.32 220.74,212.31 222.33,212.29 223.92,212.28 225.5,212.26 227.09,212.25 228.67,212.23 230.26,212.22 231.84,212.2 233.43,212.19 235.02,212.17 236.6,212.15 238.19,212.14 239.77,212.12 239.77,213.79 238.19,213.85 236.6,213.9 235.02,213.95 233.43,214 231.84,214.05 230.26,214.1 228.67,214.15 227.09,214.2 225.5,214.25 223.92,214.3 222.33,214.35 220.74,214.41 219.16,214.46 217.57,214.51 215.99,214.57 214.4,214.62 212.82,214.68 211.23,214.74 209.65,214.8 208.06,214.86 206.47,214.92 204.89,214.99 203.3,215.06 201.72,215.13 200.13,215.2 198.55,215.27 196.96,215.35 195.38,215.44 193.79,215.52 192.2,215.62 190.62,215.76 189.03,215.92 187.45,216.07 185.86,216.24 184.28,216.4 182.69,216.58 181.1,216.76 179.52,216.95 177.93,217.15 176.35,217.36 174.76,217.59 173.18,217.83 171.59,218.08 170.01,218.36 168.42,218.68 166.83,219.05 165.25,219.48 163.66,219.94 162.08,220.43 160.49,220.94 158.91,221.5 157.32,222.09 155.74,222.74 154.15,223.43 152.56,224.15 150.98,224.94 149.39,225.84 147.81,226.84 146.22,227.94 144.64,229.11 143.05,230.31 141.46,231.53 139.88,232.75 138.29,233.97 136.71,235.18 135.12,236.4 133.54,237.64 131.95,238.89 130.37,240.18 128.78,241.39 127.19,242.41 125.61,243.36 124.02,244.33 122.44,245.29 120.85,246.25 119.27,247.21 117.68,248.17 116.1,249.14 114.51,250.11 112.92,251.09 111.34,252.08 109.75,253.08 108.17,254.1 106.58,255.14 105,256.2 103.41,257.28 101.82,258.36 100.24,259.45 98.65,260.54 97.07,261.61 95.48,262.67 93.9,263.72 92.31,264.74 90.73,265.73 89.14,266.7 87.55,267.66 85.97,268.63 84.38,269.6 82.8,270.55 81.21,271.49 79.63,272.42 78.04,273.32 76.46,274.19 74.87,275.03 73.28,275.83 71.7,276.59 70.11,277.29 68.53,277.96 66.94,278.59 65.36,279.18 63.77,279.75 62.18,280.3 60.6,280.84 59.01,281.36 57.43,281.87 55.84,282.38 54.26,282.9 52.67,283.42 51.09,283.96 49.5,284.5" fill="#f3b252" stroke="none" stroke-width="1" fill-opacity="1.0"/>
<polyline points="49.5,283.38 51.09,282.81 52.67,282.24 54.26,281.69 55.84,281.15 57.43,280.61 59.01,280.06 60.6,279.51 62.18,278.95 63.77,278.36 65.36,277.76 66.94,277.13 68.53,276.46 70.11,275.76 71.7,275.01 73.28,274.22 74.87,273.38 76.46,272.5 78.04,271.58 79.63,270.64 81.21,269.67 82.8,268.67 84.38,267.67 85.97,266.65 87.55,265.62 89.14,264.6 90.73,263.56 92.31,262.49 93.9,261.39 95.48,260.26 97.07,259.1 98.65,257.93 100.24,256.75 101.82,255.56 103.41,254.38 105,253.21 106.58,252.05 108.17,250.91 109.75,249.8 111.34,248.71 112.92,247.64 114.51,246.57 116.1,245.51 117.68,244.47 119.27,243.42 120.85,242.38 122.44,241.33 124.02,240.29 125.61,239.24 127.19,238.2 128.78,237.12 130.37,235.93 131.95,234.72 133.54,233.53 135.12,232.35 136.71,231.21 138.29,230.08 139.88,228.96 141.46,227.85 143.05,226.73 144.64,225.65 146.22,224.6 147.81,223.62 149.39,222.74 150.98,221.93 152.56,221.21 154.15,220.55 155.74,219.92 157.32,219.33 158.91,218.81 160.49,218.32 162.08,217.87 163.66,217.45 165.25,217.05 166.83,216.69 168.42,216.39 170.01,216.13 171.59,215.92 173.18,215.73 174.76,215.55 176.35,215.38 177.93,215.23 179.52,215.09 181.1,214.95 182.69,214.83 184.28,214.71 185.86,214.59 187.45,214.48 189.03,214.38 190.62,214.28 192.2,214.18 193.79,214.11 195.38,214.05 196.96,213.99 198.55,213.93 200.13,213.88 201.72,213.83 203.3,213.79 204.89,213.74 206.47,213.7 208.06,213.65 209.65,213.61 211.23,213.57 212.82,213.53 214.4,213.5 215.99,213.46 217.57,213.42 219.16,213.39 220.74,213.36 222.33,213.32 223.92,213.29 225.5,213.26 227.09,213.22 228.67,213.19 230.26,213.16 231.84,213.13 233.43,213.09 235.02,213.06 236.6,213.03 238.19,212.99 239.77,212.96" fill="none" stroke="#e8962a" stroke-width="1" stroke-linejoin="round" stroke-opacity="1.0"/>
<polyline points="49.5,286.18 51.09,285.65 52.67,285.14 54.26,284.63 55.84,284.14 57.43,283.65 59.01,283.15 60.6,282.65 62.18,282.13 63.77,281.6 65.36,281.05 66.94,280.47 68.53,279.86 70.11,279.22 71.7,278.54 73.28,277.8 74.87,277.02 76.46,276.21 78.04,275.36 79.63,274.48 81.21,273.58 82.8,272.67 84.38,271.74 85.97,270.81 87.55,269.88 89.14,268.96 90.73,268.03 92.31,267.08 93.9,266.11 95.48,265.13 97.07,264.12 98.65,263.05 100.24,261.95 101.82,260.85 103.41,259.75 105,258.65 106.58,257.56 108.17,256.47 109.75,255.4 111.34,254.35 112.92,253.3 114.51,252.26 116.1,251.22 117.68,250.18 119.27,249.14 120.85,248.1 122.44,247.05 124.02,246 125.61,244.93 127.19,243.85 128.78,242.77 130.37,241.74 131.95,240.72 133.54,239.7 135.12,238.69 136.71,237.7 138.29,236.72 139.88,235.73 141.46,234.73 143.05,233.73 144.64,232.73 146.22,231.77 147.81,230.87 149.39,230.05 150.98,229.3 152.56,228.6 154.15,227.96 155.74,227.34 157.32,226.77 158.91,226.24 160.49,225.75 162.08,225.29 163.66,224.86 165.25,224.45 166.83,224.07 168.42,223.75 170.01,223.46 171.59,223.22 173.18,223 174.76,222.8 176.35,222.61 177.93,222.43 179.52,222.26 181.1,222.11 182.69,221.95 184.28,221.81 185.86,221.66 187.45,221.52 189.03,221.39 190.62,221.26 192.2,221.13 193.79,220.99 195.38,220.85 196.96,220.71 198.55,220.59 200.13,220.46 201.72,220.34 203.3,220.23 204.89,220.12 206.47,220.01 208.06,219.9 209.65,219.8 211.23,219.69 212.82,219.59 214.4,219.49 215.99,219.4 217.57,219.3 219.16,219.2 220.74,219.11 222.33,219.02 223.92,218.92 225.5,218.83 227.09,218.74 228.67,218.65 230.26,218.56 231.84,218.46 233.43,218.37 235.02,218.27 236.6,218.18 238.19,218.08 239.77,217.98" fill="none" stroke="#5a2a70" stroke-width="0.9" stroke-linejoin="round" stroke-opacity="1.0"/>
<polyline points="49.5,284.95 51.09,284.41 52.67,283.88 54.26,283.37 55.84,282.86 57.43,282.36 59.01,281.85 60.6,281.34 62.18,280.81 63.77,280.27 65.36,279.71 66.94,279.12 68.53,278.5 70.11,277.85 71.7,277.15 73.28,276.4 74.87,275.61 76.46,274.78 78.04,273.92 79.63,273.03 81.21,272.12 82.8,271.19 84.38,270.25 85.97,269.3 87.55,268.34 89.14,267.4 90.73,266.45 92.31,265.47 93.9,264.47 95.48,263.45 97.07,262.42 98.65,261.36 100.24,260.3 101.82,259.24 103.41,258.19 105,257.14 106.58,256.1 108.17,255.08 109.75,254.08 111.34,253.1 112.92,252.13 114.51,251.17 116.1,250.22 117.68,249.27 119.27,248.33 120.85,247.39 122.44,246.45 124.02,245.5 125.61,244.55 127.19,243.61 128.78,242.61 130.37,241.48 131.95,240.29 133.54,239.12 135.12,237.96 136.71,236.83 138.29,235.69 139.88,234.56 141.46,233.41 143.05,232.26 144.64,231.13 146.22,230.03 147.81,228.99 149.39,228.06 150.98,227.23 152.56,226.54 154.15,225.93 155.74,225.34 157.32,224.78 158.91,224.28 160.49,223.82 162.08,223.38 163.66,222.97 165.25,222.59 166.83,222.24 168.42,221.94 170.01,221.68 171.59,221.47 173.18,221.28 174.76,221.1 176.35,220.94 177.93,220.78 179.52,220.64 181.1,220.51 182.69,220.38 184.28,220.25 185.86,220.13 187.45,220.02 189.03,219.91 190.62,219.8 192.2,219.69 193.79,219.57 195.38,219.44 196.96,219.33 198.55,219.22 200.13,219.11 201.72,219.01 203.3,218.91 204.89,218.81 206.47,218.71 208.06,218.62 209.65,218.53 211.23,218.44 212.82,218.36 214.4,218.27 215.99,218.19 217.57,218.11 219.16,218.02 220.74,217.94 222.33,217.86 223.92,217.78 225.5,217.71 227.09,217.63 228.67,217.55 230.26,217.47 231.84,217.39 233.43,217.31 235.02,217.23 236.6,217.15 238.19,217.06 239.77,216.98" fill="none" stroke="#3a6fc0" stroke-width="0.8" stroke-linejoin="round" stroke-opacity="1.0"/>
<polyline points="49.5,288.97 51.09,288.49 52.67,288.01 54.26,287.55 55.84,287.09 57.43,286.63 59.01,286.17 60.6,285.71 62.18,285.23 63.77,284.74 65.36,284.23 66.94,283.69 68.53,283.13 70.11,282.53 71.7,281.9 73.28,281.21 74.87,280.48 76.46,279.71 78.04,278.91 79.63,278.09 81.21,277.24 82.8,276.39 84.38,275.52 85.97,274.66 87.55,273.8 89.14,272.95 90.73,272.11 92.31,271.26 93.9,270.4 95.48,269.52 97.07,268.64 98.65,267.75 100.24,266.86 101.82,265.96 103.41,265.07 105,264.18 106.58,263.29 108.17,262.41 109.75,261.53 111.34,260.67 112.92,259.82 114.51,258.96 116.1,258.12 117.68,257.27 119.27,256.42 120.85,255.56 122.44,254.7 124.02,253.84 125.61,252.96 127.19,252.09 128.78,251.16 130.37,250.05 131.95,248.87 133.54,247.71 135.12,246.54 136.71,245.37 138.29,244.19 139.88,242.98 141.46,241.75 143.05,240.5 144.64,239.26 146.22,238.03 147.81,236.86 149.39,235.8 150.98,234.86 152.56,234.11 154.15,233.43 155.74,232.76 157.32,232.14 158.91,231.55 160.49,231 162.08,230.47 163.66,229.97 165.25,229.49 166.83,229.04 168.42,228.65 170.01,228.29 171.59,227.98 173.18,227.69 174.76,227.42 176.35,227.17 177.93,226.93 179.52,226.7 181.1,226.48 182.69,226.27 184.28,226.06 185.86,225.85 187.45,225.65 189.03,225.46 190.62,225.27 192.2,225.08 193.79,224.9 195.38,224.72 196.96,224.55 198.55,224.38 200.13,224.22 201.72,224.07 203.3,223.92 204.89,223.77 206.47,223.63 208.06,223.48 209.65,223.35 211.23,223.21 212.82,223.08 214.4,222.95 215.99,222.82 217.57,222.69 219.16,222.56 220.74,222.44 222.33,222.31 223.92,222.19 225.5,222.06 227.09,221.94 228.67,221.81 230.26,221.69 231.84,221.56 233.43,221.44 235.02,221.31 236.6,221.18 238.19,221.05 239.77,220.92" fill="none" stroke="#8a3a5a" stroke-width="0.8" stroke-linejoin="round" stroke-opacity="1.0"/>
<polyline points="49.5,291.76 51.09,291.33 52.67,290.9 54.26,290.49 55.84,290.08 57.43,289.67 59.01,289.26 60.6,288.84 62.18,288.42 63.77,287.98 65.36,287.52 66.94,287.04 68.53,286.53 70.11,285.99 71.7,285.42 73.28,284.79 74.87,284.12 76.46,283.42 78.04,282.69 79.63,281.93 81.21,281.16 82.8,280.38 84.38,279.6 85.97,278.82 87.55,278.05 89.14,277.31 90.73,276.58 92.31,275.85 93.9,275.12 95.48,274.39 97.07,273.66 98.65,272.93 100.24,272.2 101.82,271.46 103.41,270.73 105,270 106.58,269.26 108.17,268.53 109.75,267.79 111.34,267.06 112.92,266.33 114.51,265.6 116.1,264.88 117.68,264.15 119.27,263.41 120.85,262.67 122.44,261.92 124.02,261.16 125.61,260.38 127.19,259.6 128.78,258.8 130.37,257.99 131.95,257.16 133.54,256.33 135.12,255.48 136.71,254.62 138.29,253.73 139.88,252.79 141.46,251.82 143.05,250.8 144.64,249.77 146.22,248.76 147.81,247.78 149.39,246.87 150.98,246 152.56,245.18 154.15,244.39 155.74,243.63 157.32,242.89 158.91,242.19 160.49,241.52 162.08,240.86 163.66,240.23 165.25,239.62 166.83,239.05 168.42,238.51 170.01,238.02 171.59,237.57 173.18,237.16 174.76,236.76 176.35,236.38 177.93,236.01 179.52,235.66 181.1,235.32 182.69,234.99 184.28,234.66 185.86,234.34 187.45,234.02 189.03,233.71 190.62,233.4 192.2,233.11 193.79,232.82 195.38,232.54 196.96,232.27 198.55,232 200.13,231.74 201.72,231.49 203.3,231.25 204.89,231.01 206.47,230.78 208.06,230.55 209.65,230.32 211.23,230.1 212.82,229.88 214.4,229.67 215.99,229.46 217.57,229.25 219.16,229.04 220.74,228.83 222.33,228.63 223.92,228.42 225.5,228.22 227.09,228.02 228.67,227.82 230.26,227.61 231.84,227.41 233.43,227.2 235.02,226.99 236.6,226.79 238.19,226.57 239.77,226.36" fill="none" stroke="#3a98d8" stroke-width="0.8" stroke-linejoin="round" stroke-opacity="1.0"/>
<polygon points="49.5,281.37 51.09,281.32 52.67,281.26 54.26,281.21 55.84,281.17 57.43,281.15 59.01,281.33 60.6,281.81 62.18,282.5 63.77,283.32 65.36,284.16 66.94,284.95 68.53,285.72 70.11,286.57 71.7,287.45 73.28,288.35 74.87,289.22 76.46,290.04 78.04,290.84 79.63,291.64 81.21,292.43 82.8,293.17 84.38,293.83 85.97,294.37 87.55,294.84 89.14,295.29 90.73,295.72 92.31,296.12 93.9,296.5 95.48,296.86 97.07,297.19 98.65,297.51 100.24,297.79 101.82,298.05 103.41,298.29 105,298.5 106.58,298.69 108.17,298.87 109.75,299.03 111.34,299.18 112.92,299.32 114.51,299.45 116.1,299.57 117.68,299.69 119.27,299.8 120.85,299.91 122.44,300.02 124.02,300.12 125.61,300.23 127.19,300.33 128.78,300.44 130.37,300.54 131.95,300.65 133.54,300.75 135.12,300.85 136.71,300.94 138.29,301.03 139.88,301.12 141.46,301.2 143.05,301.27 144.64,301.34 146.22,301.41 147.81,301.47 149.39,301.53 150.98,301.59 152.56,301.64 154.15,301.7 155.74,301.75 157.32,301.8 158.91,301.85 160.49,301.9 162.08,301.94 163.66,301.99 165.25,302.03 166.83,302.08 168.42,302.12 170.01,302.16 171.59,302.2 173.18,302.24 174.76,302.28 176.35,302.32 177.93,302.36 179.52,302.39 181.1,302.43 182.69,302.46 184.28,302.5 185.86,302.53 187.45,302.57 189.03,302.6 190.62,302.64 192.2,302.67 193.79,302.7 195.38,302.74 196.96,302.77 198.55,302.8 200.13,302.83 201.72,302.86 203.3,302.89 204.89,302.92 206.47,302.94 208.06,302.97 209.65,303 211.23,303.03 212.82,303.05 214.4,303.08 215.99,303.1 217.57,303.13 219.16,303.15 220.74,303.18 222.33,303.21 223.92,303.23 225.5,303.26 227.09,303.28 228.67,303.31 230.26,303.33 231.84,303.36 233.43,303.38 235.02,303.41 236.6,303.44 238.19,303.46 239.77,303.49 239.77,306.17 238.19,306.15 236.6,306.14 235.02,306.12 233.43,306.1 231.84,306.09 230.26,306.07 228.67,306.06 227.09,306.04 225.5,306.02 223.92,306.01 222.33,305.99 220.74,305.98 219.16,305.96 217.57,305.95 215.99,305.93 214.4,305.91 212.82,305.9 211.23,305.88 209.65,305.86 208.06,305.85 206.47,305.83 204.89,305.81 203.3,305.79 201.72,305.77 200.13,305.76 198.55,305.74 196.96,305.71 195.38,305.69 193.79,305.67 192.2,305.65 190.62,305.63 189.03,305.6 187.45,305.58 185.86,305.55 184.28,305.53 182.69,305.5 181.1,305.48 179.52,305.45 177.93,305.42 176.35,305.4 174.76,305.37 173.18,305.34 171.59,305.31 170.01,305.28 168.42,305.24 166.83,305.21 165.25,305.18 163.66,305.14 162.08,305.11 160.49,305.07 158.91,305.03 157.32,304.99 155.74,304.95 154.15,304.91 152.56,304.86 150.98,304.82 149.39,304.77 147.81,304.73 146.22,304.68 144.64,304.62 143.05,304.56 141.46,304.5 139.88,304.42 138.29,304.35 136.71,304.27 135.12,304.18 133.54,304.09 131.95,304 130.37,303.91 128.78,303.82 127.19,303.72 125.61,303.62 124.02,303.53 122.44,303.43 120.85,303.32 119.27,303.22 117.68,303.11 116.1,303 114.51,302.88 112.92,302.76 111.34,302.63 109.75,302.49 108.17,302.35 106.58,302.2 105,302.04 103.41,301.88 101.82,301.7 100.24,301.52 98.65,301.32 97.07,301.11 95.48,300.89 93.9,300.66 92.31,300.4 90.73,300.13 89.14,299.84 87.55,299.53 85.97,299.2 84.38,298.81 82.8,298.34 81.21,297.79 79.63,297.2 78.04,296.58 76.46,295.94 74.87,295.24 73.28,294.45 71.7,293.61 70.11,292.77 68.53,291.95 66.94,291.2 65.36,290.5 63.77,289.81 62.18,289.14 60.6,288.51 59.01,287.93 57.43,287.4 55.84,286.95 54.26,286.54 52.67,286.16 51.09,285.78 49.5,285.39" fill="#a4e4c0" stroke="none" stroke-width="1" fill-opacity="1.0"/>
<polyline points="49.5,283.38 51.09,283.55 52.67,283.7 54.26,283.85 55.84,284.04 57.43,284.28 59.01,284.65 60.6,285.19 62.18,285.85 63.77,286.58 65.36,287.34 66.94,288.07 68.53,288.84 70.11,289.67 71.7,290.53 73.28,291.4 74.87,292.23 76.46,292.99 78.04,293.71 79.63,294.43 81.21,295.11 82.8,295.75 84.38,296.32 85.97,296.79 87.55,297.19 89.14,297.57 90.73,297.93 92.31,298.26 93.9,298.58 95.48,298.88 97.07,299.15 98.65,299.41 100.24,299.65 101.82,299.88 103.41,300.08 105,300.27 106.58,300.45 108.17,300.61 109.75,300.76 111.34,300.9 112.92,301.04 114.51,301.17 116.1,301.29 117.68,301.4 119.27,301.51 120.85,301.62 122.44,301.72 124.02,301.82 125.61,301.93 127.19,302.03 128.78,302.13 130.37,302.23 131.95,302.33 133.54,302.42 135.12,302.51 136.71,302.6 138.29,302.69 139.88,302.77 141.46,302.85 143.05,302.92 144.64,302.98 146.22,303.04 147.81,303.1 149.39,303.15 150.98,303.2 152.56,303.25 154.15,303.3 155.74,303.35 157.32,303.4 158.91,303.44 160.49,303.48 162.08,303.53 163.66,303.57 165.25,303.61 166.83,303.64 168.42,303.68 170.01,303.72 171.59,303.76 173.18,303.79 174.76,303.82 176.35,303.86 177.93,303.89 179.52,303.92 181.1,303.95 182.69,303.98 184.28,304.01 185.86,304.04 187.45,304.07 189.03,304.1 190.62,304.13 192.2,304.16 193.79,304.19 195.38,304.21 196.96,304.24 198.55,304.27 200.13,304.29 201.72,304.32 203.3,304.34 204.89,304.36 206.47,304.39 208.06,304.41 209.65,304.43 211.23,304.45 212.82,304.47 214.4,304.5 215.99,304.52 217.57,304.54 219.16,304.56 220.74,304.58 222.33,304.6 223.92,304.62 225.5,304.64 227.09,304.66 228.67,304.68 230.26,304.7 231.84,304.72 233.43,304.74 235.02,304.76 236.6,304.79 238.19,304.81 239.77,304.83" fill="none" stroke="#1a9e52" stroke-width="1.1" stroke-linejoin="round" stroke-opacity="1.0"/>
<line x1="49.6" y1="190.8" x2="49.6" y2="312.4" stroke="#1a1a1a" stroke-width="1.1" />
<line x1="46.6" y1="305.5" x2="49.6" y2="305.5" stroke="#1a1a1a" stroke-width="0.9" />
<text x="44.3" y="307.81" font-size="6.6" font-weight="normal" text-anchor="end" fill="#222" >0</text>
<line x1="46.6" y1="283.16" x2="49.6" y2="283.16" stroke="#1a1a1a" stroke-width="0.9" />
<text x="44.3" y="285.47" font-size="6.6" font-weight="normal" text-anchor="end" fill="#222" >10</text>
<line x1="46.6" y1="260.82" x2="49.6" y2="260.82" stroke="#1a1a1a" stroke-width="0.9" />
<text x="44.3" y="263.13" font-size="6.6" font-weight="normal" text-anchor="end" fill="#222" >20</text>
<line x1="46.6" y1="238.48" x2="49.6" y2="238.48" stroke="#1a1a1a" stroke-width="0.9" />
<text x="44.3" y="240.79" font-size="6.6" font-weight="normal" text-anchor="end" fill="#222" >30</text>
<line x1="46.6" y1="216.14" x2="49.6" y2="216.14" stroke="#1a1a1a" stroke-width="0.9" />
<text x="44.3" y="218.45" font-size="6.6" font-weight="normal" text-anchor="end" fill="#222" >40</text>
<line x1="46.6" y1="193.8" x2="49.6" y2="193.8" stroke="#1a1a1a" stroke-width="0.9" />
<text x="44.3" y="196.11" font-size="6.6" font-weight="normal" text-anchor="end" fill="#222" >50</text>
<line x1="48" y1="294.33" x2="49.6" y2="294.33" stroke="#1a1a1a" stroke-width="0.7" />
<line x1="48" y1="271.99" x2="49.6" y2="271.99" stroke="#1a1a1a" stroke-width="0.7" />
<line x1="48" y1="249.65" x2="49.6" y2="249.65" stroke="#1a1a1a" stroke-width="0.7" />
<line x1="48" y1="227.31" x2="49.6" y2="227.31" stroke="#1a1a1a" stroke-width="0.7" />
<line x1="48" y1="204.97" x2="49.6" y2="204.97" stroke="#1a1a1a" stroke-width="0.7" />
<line x1="49.1" y1="310.1" x2="249.6" y2="310.1" stroke="#1a1a1a" stroke-width="1.1" />
<line x1="49.6" y1="310.1" x2="49.6" y2="312.9" stroke="#1a1a1a" stroke-width="0.9" />
<text x="49.6" y="321.31" font-size="6.6" font-weight="normal" text-anchor="middle" fill="#222" >0</text>
<line x1="59.51" y1="310.1" x2="59.51" y2="311.7" stroke="#1a1a1a" stroke-width="0.7" />
<line x1="69.42" y1="310.1" x2="69.42" y2="311.7" stroke="#1a1a1a" stroke-width="0.7" />
<line x1="79.33" y1="310.1" x2="79.33" y2="311.7" stroke="#1a1a1a" stroke-width="0.7" />
<line x1="89.24" y1="310.1" x2="89.24" y2="312.9" stroke="#1a1a1a" stroke-width="0.9" />
<text x="89.24" y="321.31" font-size="6.6" font-weight="normal" text-anchor="middle" fill="#222" >25</text>
<line x1="99.15" y1="310.1" x2="99.15" y2="311.7" stroke="#1a1a1a" stroke-width="0.7" />
<line x1="109.06" y1="310.1" x2="109.06" y2="311.7" stroke="#1a1a1a" stroke-width="0.7" />
<line x1="118.97" y1="310.1" x2="118.97" y2="311.7" stroke="#1a1a1a" stroke-width="0.7" />
<line x1="128.88" y1="310.1" x2="128.88" y2="312.9" stroke="#1a1a1a" stroke-width="0.9" />
<text x="128.88" y="321.31" font-size="6.6" font-weight="normal" text-anchor="middle" fill="#222" >50</text>
<line x1="138.79" y1="310.1" x2="138.79" y2="311.7" stroke="#1a1a1a" stroke-width="0.7" />
<line x1="148.7" y1="310.1" x2="148.7" y2="311.7" stroke="#1a1a1a" stroke-width="0.7" />
<line x1="158.61" y1="310.1" x2="158.61" y2="311.7" stroke="#1a1a1a" stroke-width="0.7" />
<line x1="168.52" y1="310.1" x2="168.52" y2="312.9" stroke="#1a1a1a" stroke-width="0.9" />
<text x="168.52" y="321.31" font-size="6.6" font-weight="normal" text-anchor="middle" fill="#222" >75</text>
<line x1="178.43" y1="310.1" x2="178.43" y2="311.7" stroke="#1a1a1a" stroke-width="0.7" />
<line x1="188.34" y1="310.1" x2="188.34" y2="311.7" stroke="#1a1a1a" stroke-width="0.7" />
<line x1="198.25" y1="310.1" x2="198.25" y2="311.7" stroke="#1a1a1a" stroke-width="0.7" />
<line x1="208.16" y1="310.1" x2="208.16" y2="312.9" stroke="#1a1a1a" stroke-width="0.9" />
<text x="208.16" y="321.31" font-size="6.6" font-weight="normal" text-anchor="middle" fill="#222" >100</text>
<line x1="218.07" y1="310.1" x2="218.07" y2="311.7" stroke="#1a1a1a" stroke-width="0.7" />
<line x1="227.98" y1="310.1" x2="227.98" y2="311.7" stroke="#1a1a1a" stroke-width="0.7" />
<line x1="237.89" y1="310.1" x2="237.89" y2="311.7" stroke="#1a1a1a" stroke-width="0.7" />
<line x1="247.8" y1="310.1" x2="247.8" y2="312.9" stroke="#1a1a1a" stroke-width="0.9" />
<text x="247.8" y="321.31" font-size="6.6" font-weight="normal" text-anchor="middle" fill="#222" >125</text>
<text x="149.4" y="185.57" font-size="8.2" font-weight="normal" text-anchor="middle" fill="#222" textLength="25.8" lengthAdjust="spacingAndGlyphs" >E:T = 1</text>
<text x="27.9" y="253.05" font-size="7" font-weight="bold" text-anchor="middle" fill="#222" textLength="80" lengthAdjust="spacingAndGlyphs" transform="rotate(-90 27.9 250.6)" >Total integrated GFP intensity</text>
<text x="150.3" y="333.13" font-size="7.8" font-weight="bold" text-anchor="middle" fill="#222" textLength="34" lengthAdjust="spacingAndGlyphs" >Time (hours)</text>
<polygon points="291.8,288.29 293.42,287.92 295.03,287.54 296.65,287.16 298.27,286.78 299.88,286.4 301.5,286.03 303.12,285.66 304.73,285.31 306.35,284.92 307.97,284.49 309.58,284.05 311.2,283.63 312.82,283.26 314.44,282.98 316.05,282.81 317.67,282.78 319.29,282.8 320.9,282.83 322.52,282.88 324.14,282.94 325.75,283.01 327.37,283.09 328.99,283.18 330.6,283.27 332.22,283.36 333.84,283.46 335.45,283.55 337.07,283.65 338.69,283.73 340.3,283.83 341.92,283.94 343.54,284.06 345.15,284.19 346.77,284.33 348.39,284.48 350,284.63 351.62,284.79 353.24,284.95 354.86,285.11 356.47,285.28 358.09,285.45 359.71,285.61 361.32,285.78 362.94,285.94 364.56,286.1 366.17,286.26 367.79,286.41 369.41,286.55 371.02,286.69 372.64,286.81 374.26,286.93 375.87,287.03 377.49,287.13 379.11,287.21 380.72,287.27 382.34,287.32 383.96,287.36 385.57,287.37 387.19,287.37 388.81,287.36 390.42,287.33 392.04,287.3 393.66,287.25 395.28,287.19 396.89,287.13 398.51,287.06 400.13,286.97 401.74,286.89 403.36,286.79 404.98,286.69 406.59,286.59 408.21,286.48 409.83,286.37 411.44,286.25 413.06,286.13 414.68,286.01 416.29,285.89 417.91,285.77 419.53,285.65 421.14,285.54 422.76,285.41 424.38,285.28 425.99,285.13 427.61,284.97 429.23,284.79 430.84,284.62 432.46,284.43 434.08,284.24 435.7,284.04 437.31,283.84 438.93,283.63 440.55,283.42 442.16,283.22 443.78,283.01 445.4,282.81 447.01,282.61 448.63,282.41 450.25,282.22 451.86,282.04 453.48,281.86 455.1,281.69 456.71,281.52 458.33,281.35 459.95,281.19 461.56,281.03 463.18,280.86 464.8,280.7 466.41,280.54 468.03,280.38 469.65,280.22 471.26,280.07 472.88,279.91 474.5,279.75 476.12,279.59 477.73,279.44 479.35,279.28 480.97,279.12 482.58,278.96 484.2,278.8 485.82,278.64 485.82,307.14 484.2,307.07 482.58,306.99 480.97,306.92 479.35,306.85 477.73,306.78 476.12,306.71 474.5,306.64 472.88,306.56 471.26,306.49 469.65,306.42 468.03,306.35 466.41,306.28 464.8,306.21 463.18,306.14 461.56,306.06 459.95,305.99 458.33,305.92 456.71,305.84 455.1,305.77 453.48,305.69 451.86,305.62 450.25,305.54 448.63,305.46 447.01,305.38 445.4,305.3 443.78,305.22 442.16,305.14 440.55,305.05 438.93,304.97 437.31,304.89 435.7,304.8 434.08,304.72 432.46,304.63 430.84,304.55 429.23,304.46 427.61,304.37 425.99,304.28 424.38,304.19 422.76,304.1 421.14,304.01 419.53,303.92 417.91,303.82 416.29,303.73 414.68,303.63 413.06,303.53 411.44,303.43 409.83,303.32 408.21,303.22 406.59,303.11 404.98,303 403.36,302.89 401.74,302.77 400.13,302.65 398.51,302.52 396.89,302.39 395.28,302.26 393.66,302.12 392.04,301.98 390.42,301.84 388.81,301.69 387.19,301.55 385.57,301.4 383.96,301.25 382.34,301.11 380.72,300.96 379.11,300.82 377.49,300.67 375.87,300.53 374.26,300.39 372.64,300.25 371.02,300.11 369.41,299.98 367.79,299.85 366.17,299.72 364.56,299.6 362.94,299.48 361.32,299.36 359.71,299.24 358.09,299.12 356.47,299.01 354.86,298.89 353.24,298.78 351.62,298.67 350,298.56 348.39,298.44 346.77,298.33 345.15,298.22 343.54,298.11 341.92,298 340.3,297.88 338.69,297.77 337.07,297.66 335.45,297.54 333.84,297.42 332.22,297.31 330.6,297.19 328.99,297.06 327.37,296.94 325.75,296.82 324.14,296.69 322.52,296.56 320.9,296.43 319.29,296.3 317.67,296.17 316.05,296.04 314.44,295.91 312.82,295.78 311.2,295.64 309.58,295.51 307.97,295.38 306.35,295.24 304.73,295.11 303.12,294.97 301.5,294.84 299.88,294.7 298.27,294.57 296.65,294.44 295.03,294.3 293.42,294.17 291.8,294.04" fill="url(#pG)" stroke="none" stroke-width="1" fill-opacity="1.0"/>
<polyline points="291.8,288.29 293.42,287.92 295.03,287.54 296.65,287.16 298.27,286.78 299.88,286.4 301.5,286.03 303.12,285.66 304.73,285.31 306.35,284.92 307.97,284.49 309.58,284.05 311.2,283.63 312.82,283.26 314.44,282.98 316.05,282.81 317.67,282.78 319.29,282.8 320.9,282.83 322.52,282.88 324.14,282.94 325.75,283.01 327.37,283.09 328.99,283.18 330.6,283.27 332.22,283.36 333.84,283.46 335.45,283.55 337.07,283.65 338.69,283.73 340.3,283.83 341.92,283.94 343.54,284.06 345.15,284.19 346.77,284.33 348.39,284.48 350,284.63 351.62,284.79 353.24,284.95 354.86,285.11 356.47,285.28 358.09,285.45 359.71,285.61 361.32,285.78 362.94,285.94 364.56,286.1 366.17,286.26 367.79,286.41 369.41,286.55 371.02,286.69 372.64,286.81 374.26,286.93 375.87,287.03 377.49,287.13 379.11,287.21 380.72,287.27 382.34,287.32 383.96,287.36 385.57,287.37 387.19,287.37 388.81,287.36 390.42,287.33 392.04,287.3 393.66,287.25 395.28,287.19 396.89,287.13 398.51,287.06 400.13,286.97 401.74,286.89 403.36,286.79 404.98,286.69 406.59,286.59 408.21,286.48 409.83,286.37 411.44,286.25 413.06,286.13 414.68,286.01 416.29,285.89 417.91,285.77 419.53,285.65 421.14,285.54 422.76,285.41 424.38,285.28 425.99,285.13 427.61,284.97 429.23,284.79 430.84,284.62 432.46,284.43 434.08,284.24 435.7,284.04 437.31,283.84 438.93,283.63 440.55,283.42 442.16,283.22 443.78,283.01 445.4,282.81 447.01,282.61 448.63,282.41 450.25,282.22 451.86,282.04 453.48,281.86 455.1,281.69 456.71,281.52 458.33,281.35 459.95,281.19 461.56,281.03 463.18,280.86 464.8,280.7 466.41,280.54 468.03,280.38 469.65,280.22 471.26,280.07 472.88,279.91 474.5,279.75 476.12,279.59 477.73,279.44 479.35,279.28 480.97,279.12 482.58,278.96 484.2,278.8 485.82,278.64" fill="none" stroke="#17995a" stroke-width="0.9" stroke-linejoin="round" stroke-opacity="1.0"/>
<polyline points="291.8,294.04 293.42,294.17 295.03,294.3 296.65,294.44 298.27,294.57 299.88,294.7 301.5,294.84 303.12,294.97 304.73,295.11 306.35,295.24 307.97,295.38 309.58,295.51 311.2,295.64 312.82,295.78 314.44,295.91 316.05,296.04 317.67,296.17 319.29,296.3 320.9,296.43 322.52,296.56 324.14,296.69 325.75,296.82 327.37,296.94 328.99,297.06 330.6,297.19 332.22,297.31 333.84,297.42 335.45,297.54 337.07,297.66 338.69,297.77 340.3,297.88 341.92,298 343.54,298.11 345.15,298.22 346.77,298.33 348.39,298.44 350,298.56 351.62,298.67 353.24,298.78 354.86,298.89 356.47,299.01 358.09,299.12 359.71,299.24 361.32,299.36 362.94,299.48 364.56,299.6 366.17,299.72 367.79,299.85 369.41,299.98 371.02,300.11 372.64,300.25 374.26,300.39 375.87,300.53 377.49,300.67 379.11,300.82 380.72,300.96 382.34,301.11 383.96,301.25 385.57,301.4 387.19,301.55 388.81,301.69 390.42,301.84 392.04,301.98 393.66,302.12 395.28,302.26 396.89,302.39 398.51,302.52 400.13,302.65 401.74,302.77 403.36,302.89 404.98,303 406.59,303.11 408.21,303.22 409.83,303.32 411.44,303.43 413.06,303.53 414.68,303.63 416.29,303.73 417.91,303.82 419.53,303.92 421.14,304.01 422.76,304.1 424.38,304.19 425.99,304.28 427.61,304.37 429.23,304.46 430.84,304.55 432.46,304.63 434.08,304.72 435.7,304.8 437.31,304.89 438.93,304.97 440.55,305.05 442.16,305.14 443.78,305.22 445.4,305.3 447.01,305.38 448.63,305.46 450.25,305.54 451.86,305.62 453.48,305.69 455.1,305.77 456.71,305.84 458.33,305.92 459.95,305.99 461.56,306.06 463.18,306.14 464.8,306.21 466.41,306.28 468.03,306.35 469.65,306.42 471.26,306.49 472.88,306.56 474.5,306.64 476.12,306.71 477.73,306.78 479.35,306.85 480.97,306.92 482.58,306.99 484.2,307.07 485.82,307.14" fill="none" stroke="#17995a" stroke-width="0.9" stroke-linejoin="round" stroke-opacity="1.0"/>
<polyline points="291.8,289.21 293.42,289.27 295.03,289.33 296.65,289.39 298.27,289.45 299.88,289.51 301.5,289.57 303.12,289.62 304.73,289.68 306.35,289.73 307.97,289.79 309.58,289.85 311.2,289.9 312.82,289.96 314.44,290.01 316.05,290.07 317.67,290.13 319.29,290.19 320.9,290.25 322.52,290.31 324.14,290.37 325.75,290.43 327.37,290.49 328.99,290.56 330.6,290.62 332.22,290.69 333.84,290.76 335.45,290.83 337.07,290.9 338.69,290.98 340.3,291.05 341.92,291.14 343.54,291.23 345.15,291.33 346.77,291.44 348.39,291.56 350,291.69 351.62,291.82 353.24,291.95 354.86,292.09 356.47,292.23 358.09,292.37 359.71,292.51 361.32,292.65 362.94,292.79 364.56,292.93 366.17,293.07 367.79,293.19 369.41,293.32 371.02,293.44 372.64,293.55 374.26,293.65 375.87,293.74 377.49,293.82 379.11,293.89 380.72,293.95 382.34,293.99 383.96,294.02 385.57,294.04 387.19,294.04 388.81,294.04 390.42,294.04 392.04,294.04 393.66,294.03 395.28,294.03 396.89,294.03 398.51,294.02 400.13,294.02 401.74,294.01 403.36,294.01 404.98,294 406.59,293.99 408.21,293.99 409.83,293.98 411.44,293.97 413.06,293.96 414.68,293.95 416.29,293.94 417.91,293.94 419.53,293.93 421.14,293.92 422.76,293.91 424.38,293.9 425.99,293.89 427.61,293.88 429.23,293.86 430.84,293.85 432.46,293.84 434.08,293.83 435.7,293.82 437.31,293.81 438.93,293.8 440.55,293.78 442.16,293.77 443.78,293.75 445.4,293.74 447.01,293.72 448.63,293.7 450.25,293.68 451.86,293.66 453.48,293.63 455.1,293.61 456.71,293.59 458.33,293.56 459.95,293.54 461.56,293.51 463.18,293.48 464.8,293.46 466.41,293.43 468.03,293.4 469.65,293.38 471.26,293.35 472.88,293.32 474.5,293.3 476.12,293.27 477.73,293.24 479.35,293.22 480.97,293.19 482.58,293.17 484.2,293.14 485.82,293.12" fill="none" stroke="#17995a" stroke-width="0.9" stroke-linejoin="round" stroke-opacity="1.0"/>
<polygon points="291.8,275.89 293.42,275.18 295.03,274.49 296.65,273.82 298.27,273.15 299.88,272.49 301.5,271.8 303.12,271.1 304.73,270.37 306.35,269.59 307.97,268.77 309.58,267.89 311.2,266.93 312.82,265.9 314.44,264.8 316.05,263.65 317.67,262.44 319.29,261.2 320.9,259.93 322.52,258.63 324.14,257.33 325.75,256.02 327.37,254.72 328.99,253.44 330.6,252.13 332.22,250.79 333.84,249.42 335.45,248.03 337.07,246.63 338.69,245.22 340.3,243.81 341.92,242.41 343.54,241.02 345.15,239.65 346.77,238.3 348.39,236.98 350,235.68 351.62,234.37 353.24,233.08 354.86,231.79 356.47,230.51 358.09,229.24 359.71,227.99 361.32,226.75 362.94,225.53 364.56,224.33 366.17,223.15 367.79,222 369.41,220.88 371.02,219.79 372.64,218.73 374.26,217.67 375.87,216.62 377.49,215.56 379.11,214.48 380.72,213.38 382.34,212.19 383.96,210.92 385.57,209.67 387.19,208.54 388.81,207.63 390.42,206.9 392.04,206.23 393.66,205.63 395.28,205.08 396.89,204.58 398.51,204.13 400.13,203.73 401.74,203.34 403.36,202.94 404.98,202.55 406.59,202.2 408.21,201.89 409.83,201.65 411.44,201.49 413.06,201.43 414.68,201.44 416.29,201.46 417.91,201.49 419.53,201.53 421.14,201.58 422.76,201.64 424.38,201.7 425.99,201.76 427.61,201.83 429.23,201.89 430.84,201.96 432.46,202.04 434.08,202.13 435.7,202.23 437.31,202.34 438.93,202.45 440.55,202.57 442.16,202.69 443.78,202.81 445.4,202.93 447.01,203.05 448.63,203.17 450.25,203.29 451.86,203.4 453.48,203.5 455.1,203.6 456.71,203.69 458.33,203.79 459.95,203.89 461.56,203.98 463.18,204.07 464.8,204.16 466.41,204.26 468.03,204.35 469.65,204.44 471.26,204.53 472.88,204.62 474.5,204.71 476.12,204.79 477.73,204.88 479.35,204.97 480.97,205.06 482.58,205.15 484.2,205.25 485.82,205.34 485.82,214.53 484.2,214.69 482.58,214.85 480.97,215.01 479.35,215.16 477.73,215.32 476.12,215.48 474.5,215.63 472.88,215.79 471.26,215.95 469.65,216.1 468.03,216.26 466.41,216.42 464.8,216.58 463.18,216.74 461.56,216.91 459.95,217.07 458.33,217.24 456.71,217.41 455.1,217.59 453.48,217.77 451.86,217.95 450.25,218.14 448.63,218.33 447.01,218.52 445.4,218.72 443.78,218.92 442.16,219.12 440.55,219.32 438.93,219.53 437.31,219.74 435.7,219.95 434.08,220.16 432.46,220.37 430.84,220.58 429.23,220.8 427.61,221 425.99,221.2 424.38,221.39 422.76,221.58 421.14,221.77 419.53,221.98 417.91,222.2 416.29,222.45 414.68,222.72 413.06,223.03 411.44,223.38 409.83,223.79 408.21,224.26 406.59,224.78 404.98,225.37 403.36,226.03 401.74,226.75 400.13,227.54 398.51,228.55 396.89,229.89 395.28,231.46 393.66,233.18 392.04,234.97 390.42,236.73 388.81,238.39 387.19,239.85 385.57,241.14 383.96,242.35 382.34,243.5 380.72,244.63 379.11,245.75 377.49,246.91 375.87,248.11 374.26,249.38 372.64,250.71 371.02,252.08 369.41,253.48 367.79,254.89 366.17,256.3 364.56,257.71 362.94,259.13 361.32,260.59 359.71,262.05 358.09,263.49 356.47,264.88 354.86,266.2 353.24,267.46 351.62,268.69 350,269.88 348.39,271.02 346.77,272.11 345.15,273.13 343.54,274.12 341.92,275.09 340.3,276.03 338.69,276.89 337.07,277.65 335.45,278.28 333.84,278.83 332.22,279.37 330.6,279.87 328.99,280.32 327.37,280.68 325.75,280.95 324.14,281.08 322.52,281.15 320.9,281.2 319.29,281.24 317.67,281.27 316.05,281.3 314.44,281.33 312.82,281.35 311.2,281.38 309.58,281.41 307.97,281.44 306.35,281.48 304.73,281.52 303.12,281.56 301.5,281.61 299.88,281.65 298.27,281.69 296.65,281.73 295.03,281.78 293.42,281.82 291.8,281.86" fill="url(#pB)" stroke="none" stroke-width="1" fill-opacity="1.0"/>
<polyline points="291.8,275.89 293.42,275.18 295.03,274.49 296.65,273.82 298.27,273.15 299.88,272.49 301.5,271.8 303.12,271.1 304.73,270.37 306.35,269.59 307.97,268.77 309.58,267.89 311.2,266.93 312.82,265.9 314.44,264.8 316.05,263.65 317.67,262.44 319.29,261.2 320.9,259.93 322.52,258.63 324.14,257.33 325.75,256.02 327.37,254.72 328.99,253.44 330.6,252.13 332.22,250.79 333.84,249.42 335.45,248.03 337.07,246.63 338.69,245.22 340.3,243.81 341.92,242.41 343.54,241.02 345.15,239.65 346.77,238.3 348.39,236.98 350,235.68 351.62,234.37 353.24,233.08 354.86,231.79 356.47,230.51 358.09,229.24 359.71,227.99 361.32,226.75 362.94,225.53 364.56,224.33 366.17,223.15 367.79,222 369.41,220.88 371.02,219.79 372.64,218.73 374.26,217.67 375.87,216.62 377.49,215.56 379.11,214.48 380.72,213.38 382.34,212.19 383.96,210.92 385.57,209.67 387.19,208.54 388.81,207.63 390.42,206.9 392.04,206.23 393.66,205.63 395.28,205.08 396.89,204.58 398.51,204.13 400.13,203.73 401.74,203.34 403.36,202.94 404.98,202.55 406.59,202.2 408.21,201.89 409.83,201.65 411.44,201.49 413.06,201.43 414.68,201.44 416.29,201.46 417.91,201.49 419.53,201.53 421.14,201.58 422.76,201.64 424.38,201.7 425.99,201.76 427.61,201.83 429.23,201.89 430.84,201.96 432.46,202.04 434.08,202.13 435.7,202.23 437.31,202.34 438.93,202.45 440.55,202.57 442.16,202.69 443.78,202.81 445.4,202.93 447.01,203.05 448.63,203.17 450.25,203.29 451.86,203.4 453.48,203.5 455.1,203.6 456.71,203.69 458.33,203.79 459.95,203.89 461.56,203.98 463.18,204.07 464.8,204.16 466.41,204.26 468.03,204.35 469.65,204.44 471.26,204.53 472.88,204.62 474.5,204.71 476.12,204.79 477.73,204.88 479.35,204.97 480.97,205.06 482.58,205.15 484.2,205.25 485.82,205.34" fill="none" stroke="#3aa0d8" stroke-width="0.8" stroke-linejoin="round" stroke-opacity="1.0"/>
<polygon points="291.8,282.32 293.42,281.78 295.03,281.26 296.65,280.77 298.27,280.29 299.88,279.83 301.5,279.37 303.12,278.93 304.73,278.48 306.35,278.03 307.97,277.58 309.58,277.12 311.2,276.65 312.82,276.15 314.44,275.64 316.05,275.1 317.67,274.53 319.29,273.93 320.9,273.29 322.52,272.61 324.14,271.89 325.75,271.12 327.37,270.29 328.99,269.4 330.6,268.23 332.22,266.77 333.84,265.07 335.45,263.19 337.07,261.19 338.69,259.11 340.3,257.02 341.92,254.97 343.54,253.01 345.15,251.2 346.77,249.61 348.39,248.25 350,247.01 351.62,245.83 353.24,244.71 354.86,243.64 356.47,242.61 358.09,241.61 359.71,240.64 361.32,239.69 362.94,238.74 364.56,237.8 366.17,236.84 367.79,235.87 369.41,234.86 371.02,233.82 372.64,232.77 374.26,231.71 375.87,230.66 377.49,229.64 379.11,228.65 380.72,227.71 382.34,226.83 383.96,226.02 385.57,225.3 387.19,224.69 388.81,224.18 390.42,223.75 392.04,223.35 393.66,222.98 395.28,222.63 396.89,222.3 398.51,221.99 400.13,221.7 401.74,221.43 403.36,221.17 404.98,220.93 406.59,220.69 408.21,220.47 409.83,220.24 411.44,220.03 413.06,219.81 414.68,219.6 416.29,219.4 417.91,219.2 419.53,219.01 421.14,218.82 422.76,218.64 424.38,218.47 425.99,218.3 427.61,218.13 429.23,217.98 430.84,217.83 432.46,217.68 434.08,217.54 435.7,217.41 437.31,217.29 438.93,217.17 440.55,217.05 442.16,216.94 443.78,216.83 445.4,216.72 447.01,216.62 448.63,216.52 450.25,216.42 451.86,216.32 453.48,216.23 455.1,216.14 456.71,216.05 458.33,215.96 459.95,215.88 461.56,215.79 463.18,215.71 464.8,215.62 466.41,215.54 468.03,215.46 469.65,215.38 471.26,215.3 472.88,215.22 474.5,215.13 476.12,215.05 477.73,214.97 479.35,214.88 480.97,214.8 482.58,214.71 484.2,214.62 485.82,214.53 485.82,226.25 484.2,226.41 482.58,226.56 480.97,226.71 479.35,226.86 477.73,227.01 476.12,227.16 474.5,227.31 472.88,227.45 471.26,227.6 469.65,227.75 468.03,227.9 466.41,228.06 464.8,228.21 463.18,228.37 461.56,228.54 459.95,228.71 458.33,228.89 456.71,229.07 455.1,229.27 453.48,229.47 451.86,229.67 450.25,229.88 448.63,230.1 447.01,230.32 445.4,230.56 443.78,230.8 442.16,231.06 440.55,231.33 438.93,231.61 437.31,231.91 435.7,232.22 434.08,232.56 432.46,232.91 430.84,233.31 429.23,233.77 427.61,234.28 425.99,234.84 424.38,235.43 422.76,236.05 421.14,236.68 419.53,237.32 417.91,237.97 416.29,238.6 414.68,239.22 413.06,239.81 411.44,240.38 409.83,240.94 408.21,241.49 406.59,242.05 404.98,242.61 403.36,243.17 401.74,243.74 400.13,244.33 398.51,244.93 396.89,245.55 395.28,246.22 393.66,246.92 392.04,247.66 390.42,248.39 388.81,249.1 387.19,249.77 385.57,250.38 383.96,250.92 382.34,251.4 380.72,251.87 379.11,252.34 377.49,252.84 375.87,253.4 374.26,254.05 372.64,254.85 371.02,255.79 369.41,256.85 367.79,257.99 366.17,259.2 364.56,260.42 362.94,261.64 361.32,262.82 359.71,263.94 358.09,265.02 356.47,266.12 354.86,267.23 353.24,268.33 351.62,269.43 350,270.49 348.39,271.52 346.77,272.51 345.15,273.43 343.54,274.28 341.92,275.08 340.3,275.85 338.69,276.6 337.07,277.32 335.45,278.01 333.84,278.67 332.22,279.29 330.6,279.88 328.99,280.43 327.37,280.94 325.75,281.42 324.14,281.86 322.52,282.28 320.9,282.67 319.29,283.05 317.67,283.41 316.05,283.77 314.44,284.12 312.82,284.46 311.2,284.81 309.58,285.17 307.97,285.54 306.35,285.91 304.73,286.28 303.12,286.65 301.5,287.02 299.88,287.38 298.27,287.75 296.65,288.12 295.03,288.48 293.42,288.85 291.8,289.21" fill="url(#pP)" stroke="none" stroke-width="1" fill-opacity="1.0"/>
<polyline points="291.8,289.21 293.42,288.85 295.03,288.48 296.65,288.12 298.27,287.75 299.88,287.38 301.5,287.02 303.12,286.65 304.73,286.28 306.35,285.91 307.97,285.54 309.58,285.17 311.2,284.81 312.82,284.46 314.44,284.12 316.05,283.77 317.67,283.41 319.29,283.05 320.9,282.67 322.52,282.28 324.14,281.86 325.75,281.42 327.37,280.94 328.99,280.43 330.6,279.88 332.22,279.29 333.84,278.67 335.45,278.01 337.07,277.32 338.69,276.6 340.3,275.85 341.92,275.08 343.54,274.28 345.15,273.43 346.77,272.51 348.39,271.52 350,270.49 351.62,269.43 353.24,268.33 354.86,267.23 356.47,266.12 358.09,265.02 359.71,263.94 361.32,262.82 362.94,261.64 364.56,260.42 366.17,259.2 367.79,257.99 369.41,256.85 371.02,255.79 372.64,254.85 374.26,254.05 375.87,253.4 377.49,252.84 379.11,252.34 380.72,251.87 382.34,251.4 383.96,250.92 385.57,250.38 387.19,249.77 388.81,249.1 390.42,248.39 392.04,247.66 393.66,246.92 395.28,246.22 396.89,245.55 398.51,244.93 400.13,244.33 401.74,243.74 403.36,243.17 404.98,242.61 406.59,242.05 408.21,241.49 409.83,240.94 411.44,240.38 413.06,239.81 414.68,239.22 416.29,238.6 417.91,237.97 419.53,237.32 421.14,236.68 422.76,236.05 424.38,235.43 425.99,234.84 427.61,234.28 429.23,233.77 430.84,233.31 432.46,232.91 434.08,232.56 435.7,232.22 437.31,231.91 438.93,231.61 440.55,231.33 442.16,231.06 443.78,230.8 445.4,230.56 447.01,230.32 448.63,230.1 450.25,229.88 451.86,229.67 453.48,229.47 455.1,229.27 456.71,229.07 458.33,228.89 459.95,228.71 461.56,228.54 463.18,228.37 464.8,228.21 466.41,228.06 468.03,227.9 469.65,227.75 471.26,227.6 472.88,227.45 474.5,227.31 476.12,227.16 477.73,227.01 479.35,226.86 480.97,226.71 482.58,226.56 484.2,226.41 485.82,226.25" fill="none" stroke="#8a5a9a" stroke-width="0.8" stroke-linejoin="round" stroke-opacity="1.0"/>
<polyline points="291.8,285.77 293.42,285.35 295.03,284.94 296.65,284.54 298.27,284.14 299.88,283.74 301.5,283.34 303.12,282.93 304.73,282.51 306.35,282.09 307.97,281.65 309.58,281.2 311.2,280.73 312.82,280.26 314.44,279.79 316.05,279.32 317.67,278.84 319.29,278.35 320.9,277.85 322.52,277.31 324.14,276.75 325.75,276.15 327.37,275.5 328.99,274.81 330.6,274.06 332.22,273.18 333.84,272.12 335.45,270.93 337.07,269.62 338.69,268.22 340.3,266.78 341.92,265.32 343.54,263.87 345.15,262.46 346.77,261.12 348.39,259.89 350,258.73 351.62,257.59 353.24,256.47 354.86,255.37 356.47,254.28 358.09,253.22 359.71,252.17 361.32,251.14 362.94,250.12 364.56,249.11 366.17,248.1 367.79,247.09 369.41,246.08 371.02,245.08 372.64,244.1 374.26,243.14 375.87,242.23 377.49,241.36 379.11,240.54 380.72,239.79 382.34,239.08 383.96,238.41 385.57,237.77 387.19,237.15 388.81,236.56 390.42,235.99 392.04,235.45 393.66,234.92 395.28,234.42 396.89,233.93 398.51,233.45 400.13,233.01 401.74,232.58 403.36,232.17 404.98,231.77 406.59,231.37 408.21,230.99 409.83,230.6 411.44,230.21 413.06,229.81 414.68,229.4 416.29,228.97 417.91,228.54 419.53,228.11 421.14,227.68 422.76,227.27 424.38,226.87 425.99,226.5 427.61,226.17 429.23,225.87 430.84,225.61 432.46,225.35 434.08,225.11 435.7,224.88 437.31,224.66 438.93,224.44 440.55,224.24 442.16,224.04 443.78,223.85 445.4,223.67 447.01,223.5 448.63,223.33 450.25,223.16 451.86,223 453.48,222.85 455.1,222.7 456.71,222.55 458.33,222.41 459.95,222.27 461.56,222.14 463.18,222.02 464.8,221.89 466.41,221.77 468.03,221.66 469.65,221.54 471.26,221.42 472.88,221.31 474.5,221.2 476.12,221.09 477.73,220.97 479.35,220.86 480.97,220.75 482.58,220.63 484.2,220.51 485.82,220.39" fill="none" stroke="#6a3a78" stroke-width="0.9" stroke-linejoin="round" stroke-opacity="1.0"/>
<polygon points="291.8,283.01 293.42,282.56 295.03,282.12 296.65,281.69 298.27,281.27 299.88,280.85 301.5,280.44 303.12,280.03 304.73,279.62 306.35,279.21 307.97,278.8 309.58,278.38 311.2,277.96 312.82,277.54 314.44,277.11 316.05,276.67 317.67,276.22 319.29,275.76 320.9,275.29 320.9,275.29 319.29,276.16 317.67,277.01 316.05,277.86 314.44,278.69 312.82,279.52 311.2,280.34 309.58,281.15 307.97,281.96 306.35,282.77 304.73,283.57 303.12,284.38 301.5,285.19 299.88,286 298.27,286.81 296.65,287.63 295.03,288.46 293.42,289.29 291.8,290.13" fill="#c8b27e" stroke="none" stroke-width="1" fill-opacity="0.85"/>
<polyline points="291.8,286.92 293.42,286.25 295.03,285.6 296.65,284.95 298.27,284.31 299.88,283.67 301.5,283.04 303.12,282.41 304.73,281.79 306.35,281.16 307.97,280.53 309.58,279.9 311.2,279.27 312.82,278.62 314.44,277.98 316.05,277.32 317.67,276.66 319.29,275.98 320.9,275.29 322.52,274.59 324.14,273.87 325.75,273.14 327.37,272.39 328.99,271.62 330.6,270.83 332.22,270.01 333.84,269.15 335.45,268.26 337.07,267.34 338.69,266.4 340.3,265.43 341.92,264.44 343.54,263.43 345.15,262.41 346.77,261.37 348.39,260.33 350,259.28 351.62,258.23 353.24,257.19 354.86,256.14 356.47,255.11 358.09,254.08 359.71,253.07 361.32,252.08 362.94,251.1 364.56,250.15 366.17,249.21 367.79,248.27 369.41,247.33 371.02,246.39 372.64,245.45 374.26,244.52 375.87,243.59 377.49,242.67 379.11,241.76 380.72,240.86 382.34,239.97 383.96,239.1 385.57,238.23 387.19,237.38 388.81,236.55 390.42,235.74 392.04,234.92 393.66,234.1 395.28,233.27 396.89,232.45 398.51,231.64 400.13,230.84 401.74,230.07 403.36,229.32 404.98,228.61 406.59,227.93 408.21,227.3 409.83,226.72 411.44,226.2 413.06,225.71 414.68,225.22 416.29,224.75 417.91,224.29 419.53,223.85 421.14,223.42 422.76,223 424.38,222.61 425.99,222.24 427.61,221.88 429.23,221.55 430.84,221.24 432.46,220.96 434.08,220.7 435.7,220.47 437.31,220.27 438.93,220.09 440.55,219.92 442.16,219.76 443.78,219.6 445.4,219.46 447.01,219.31 448.63,219.18 450.25,219.05 451.86,218.93 453.48,218.81 455.1,218.7 456.71,218.59 458.33,218.49 459.95,218.39 461.56,218.29 463.18,218.19 464.8,218.1 466.41,218 468.03,217.91 469.65,217.82 471.26,217.73 472.88,217.64 474.5,217.54 476.12,217.45 477.73,217.35 479.35,217.25 480.97,217.15 482.58,217.05 484.2,216.94 485.82,216.83" fill="none" stroke="#e0904a" stroke-width="1" stroke-linejoin="round" stroke-opacity="1.0"/>
<polyline points="291.8,282.32 293.42,281.65 295.03,281 296.65,280.35 298.27,279.71 299.88,279.08 301.5,278.45 303.12,277.82 304.73,277.19 306.35,276.56 307.97,275.94 309.58,275.3 311.2,274.67 312.82,274.03 314.44,273.38 316.05,272.73 317.67,272.06 319.29,271.39 320.9,270.7 322.52,270 324.14,269.28 325.75,268.55 327.37,267.79 328.99,267.02 330.6,266.23 332.22,265.41 333.84,264.56 335.45,263.67 337.07,262.75 338.69,261.8 340.3,260.83 341.92,259.84 343.54,258.83 345.15,257.81 346.77,256.78 348.39,255.73 350,254.69 351.62,253.64 353.24,252.59 354.86,251.55 356.47,250.51 358.09,249.49 359.71,248.47 361.32,247.48 362.94,246.5 364.56,245.55 366.17,244.61 367.79,243.67 369.41,242.73 371.02,241.79 372.64,240.85 374.26,239.92 375.87,239 377.49,238.08 379.11,237.17 380.72,236.27 382.34,235.38 383.96,234.5 385.57,233.64 387.19,232.79 388.81,231.96 390.42,231.14 392.04,230.33 393.66,229.5 395.28,228.68 396.89,227.85 398.51,227.04 400.13,226.25 401.74,225.47 403.36,224.72 404.98,224.01 406.59,223.34 408.21,222.71 409.83,222.13 411.44,221.6 413.06,221.11 414.68,220.63 416.29,220.15 417.91,219.69 419.53,219.25 421.14,218.82 422.76,218.41 424.38,218.01 425.99,217.64 427.61,217.29 429.23,216.95 430.84,216.65 432.46,216.36 434.08,216.11 435.7,215.88 437.31,215.68 438.93,215.5 440.55,215.33 442.16,215.16 443.78,215.01 445.4,214.86 447.01,214.72 448.63,214.58 450.25,214.46 451.86,214.33 453.48,214.22 455.1,214.1 456.71,214 458.33,213.89 459.95,213.79 461.56,213.69 463.18,213.59 464.8,213.5 466.41,213.41 468.03,213.32 469.65,213.22 471.26,213.13 472.88,213.04 474.5,212.95 476.12,212.85 477.73,212.76 479.35,212.66 480.97,212.56 482.58,212.45 484.2,212.34 485.82,212.23" fill="none" stroke="#eea070" stroke-width="0.6" stroke-linejoin="round" stroke-opacity="1.0"/>
<polyline points="291.8,278.87 293.42,278.5 295.03,278.14 296.65,277.78 298.27,277.43 299.88,277.07 301.5,276.71 303.12,276.34 304.73,275.95 306.35,275.54 307.97,275.11 309.58,274.64 311.2,274.15 312.82,273.62 314.44,273.07 316.05,272.5 317.67,271.89 319.29,271.26 320.9,270.6 322.52,269.92 324.14,269.21 325.75,268.47 327.37,267.7 328.99,266.91 330.6,266.06 332.22,265.15 333.84,264.17 335.45,263.16 337.07,262.09 338.69,261 340.3,259.87 341.92,258.72 343.54,257.56 345.15,256.39 346.77,255.22 348.39,254.04 350,252.83 351.62,251.58 353.24,250.3 354.86,248.99 356.47,247.67 358.09,246.33 359.71,244.99 361.32,243.65 362.94,242.33 364.56,241.02 366.17,239.74 367.79,238.5 369.41,237.25 371.02,236.01 372.64,234.78 374.26,233.55 375.87,232.33 377.49,231.12 379.11,229.93 380.72,228.75 382.34,227.58 383.96,226.44 385.57,225.31 387.19,224.2 388.81,223.04 390.42,221.85 392.04,220.66 393.66,219.5 395.28,218.39 396.89,217.36 398.51,216.43 400.13,215.63 401.74,214.99 403.36,214.44 404.98,213.93 406.59,213.46 408.21,213.04 409.83,212.69 411.44,212.42 413.06,212.23 414.68,212.1 416.29,211.98 417.91,211.87 419.53,211.77 421.14,211.68 422.76,211.6 424.38,211.53 425.99,211.46 427.61,211.4 429.23,211.34 430.84,211.29 432.46,211.24 434.08,211.19 435.7,211.13 437.31,211.08 438.93,211.03 440.55,210.98 442.16,210.93 443.78,210.88 445.4,210.84 447.01,210.8 448.63,210.75 450.25,210.71 451.86,210.67 453.48,210.63 455.1,210.6 456.71,210.56 458.33,210.52 459.95,210.49 461.56,210.45 463.18,210.42 464.8,210.38 466.41,210.35 468.03,210.32 469.65,210.28 471.26,210.25 472.88,210.22 474.5,210.18 476.12,210.15 477.73,210.11 479.35,210.08 480.97,210.04 482.58,210.01 484.2,209.97 485.82,209.93" fill="none" stroke="#2f9ab0" stroke-width="1" stroke-linejoin="round" stroke-opacity="1.0"/>
<polygon points="291.8,280.02 293.42,279.73 295.03,279.46 296.65,279.2 298.27,278.94 299.88,278.68 301.5,278.41 303.12,278.12 304.73,277.82 306.35,277.49 307.97,277.12 309.58,276.72 311.2,276.22 312.82,275.62 314.44,274.95 316.05,274.26 317.67,273.57 319.29,272.91 320.9,272.31 322.52,271.73 324.14,271.15 325.75,270.57 327.37,270 328.99,269.44 330.6,268.88 332.22,268.33 333.84,267.78 335.45,267.25 337.07,266.71 338.69,266.19 340.3,265.67 341.92,265.17 343.54,264.68 345.15,264.2 346.77,263.73 348.39,263.27 350,262.8 351.62,262.34 353.24,261.87 354.86,261.4 356.47,260.92 358.09,260.42 359.71,259.9 361.32,259.37 362.94,258.82 364.56,258.26 366.17,257.68 367.79,257.09 369.41,256.51 371.02,255.91 372.64,255.33 374.26,254.74 375.87,254.16 377.49,253.57 379.11,252.98 380.72,252.38 382.34,251.78 383.96,251.19 385.57,250.59 387.19,250 388.81,249.41 390.42,248.84 392.04,248.27 393.66,247.71 395.28,247.16 396.89,246.63 398.51,246.1 400.13,245.58 401.74,245.08 403.36,244.57 404.98,244.07 406.59,243.58 408.21,243.09 409.83,242.6 411.44,242.11 413.06,241.6 414.68,241.08 416.29,240.55 417.91,240.01 419.53,239.47 421.14,238.94 422.76,238.42 424.38,237.92 425.99,237.45 427.61,237 429.23,236.59 430.84,236.22 432.46,235.9 434.08,235.6 435.7,235.3 437.31,235.01 438.93,234.71 440.55,234.43 442.16,234.17 443.78,233.92 445.4,233.71 447.01,233.52 448.63,233.36 450.25,233.24 451.86,233.17 453.48,233.14 455.1,233.15 456.71,233.15 458.33,233.16 459.95,233.18 461.56,233.19 463.18,233.21 464.8,233.24 466.41,233.26 468.03,233.29 469.65,233.32 471.26,233.34 472.88,233.37 474.5,233.4 476.12,233.44 477.73,233.47 479.35,233.5 480.97,233.52 482.58,233.55 484.2,233.58 485.82,233.6 485.82,236.82 484.2,236.88 482.58,236.93 480.97,236.98 479.35,237.02 477.73,237.07 476.12,237.11 474.5,237.16 472.88,237.2 471.26,237.25 469.65,237.29 468.03,237.34 466.41,237.39 464.8,237.45 463.18,237.51 461.56,237.57 459.95,237.64 458.33,237.71 456.71,237.79 455.1,237.87 453.48,237.97 451.86,238.08 450.25,238.23 448.63,238.4 447.01,238.6 445.4,238.82 443.78,239.06 442.16,239.33 440.55,239.61 438.93,239.9 437.31,240.21 435.7,240.53 434.08,240.85 432.46,241.19 430.84,241.54 429.23,241.94 427.61,242.37 425.99,242.83 424.38,243.33 422.76,243.85 421.14,244.39 419.53,244.94 417.91,245.51 416.29,246.09 414.68,246.68 413.06,247.26 411.44,247.85 409.83,248.45 408.21,249.08 406.59,249.74 404.98,250.42 403.36,251.11 401.74,251.8 400.13,252.5 398.51,253.18 396.89,253.86 395.28,254.51 393.66,255.15 392.04,255.78 390.42,256.41 388.81,257.03 387.19,257.65 385.57,258.26 383.96,258.87 382.34,259.48 380.72,260.09 379.11,260.71 377.49,261.32 375.87,261.94 374.26,262.56 372.64,263.19 371.02,263.85 369.41,264.51 367.79,265.17 366.17,265.83 364.56,266.46 362.94,267.07 361.32,267.65 359.71,268.17 358.09,268.67 356.47,269.14 354.86,269.59 353.24,270.02 351.62,270.44 350,270.85 348.39,271.25 346.77,271.65 345.15,272.05 343.54,272.45 341.92,272.86 340.3,273.27 338.69,273.7 337.07,274.14 335.45,274.57 333.84,275.02 332.22,275.46 330.6,275.9 328.99,276.34 327.37,276.77 325.75,277.19 324.14,277.61 322.52,278.02 320.9,278.41 319.29,278.8 317.67,279.18 316.05,279.55 314.44,279.92 312.82,280.27 311.2,280.59 309.58,280.89 307.97,281.15 306.35,281.39 304.73,281.62 303.12,281.84 301.5,282.05 299.88,282.25 298.27,282.44 296.65,282.63 295.03,282.83 293.42,283.03 291.8,283.24" fill="#ee6a84" stroke="none" stroke-width="1" fill-opacity="1.0"/>
<polyline points="291.8,280.02 293.42,279.73 295.03,279.46 296.65,279.2 298.27,278.94 299.88,278.68 301.5,278.41 303.12,278.12 304.73,277.82 306.35,277.49 307.97,277.12 309.58,276.72 311.2,276.22 312.82,275.62 314.44,274.95 316.05,274.26 317.67,273.57 319.29,272.91 320.9,272.31 322.52,271.73 324.14,271.15 325.75,270.57 327.37,270 328.99,269.44 330.6,268.88 332.22,268.33 333.84,267.78 335.45,267.25 337.07,266.71 338.69,266.19 340.3,265.67 341.92,265.17 343.54,264.68 345.15,264.2 346.77,263.73 348.39,263.27 350,262.8 351.62,262.34 353.24,261.87 354.86,261.4 356.47,260.92 358.09,260.42 359.71,259.9 361.32,259.37 362.94,258.82 364.56,258.26 366.17,257.68 367.79,257.09 369.41,256.51 371.02,255.91 372.64,255.33 374.26,254.74 375.87,254.16 377.49,253.57 379.11,252.98 380.72,252.38 382.34,251.78 383.96,251.19 385.57,250.59 387.19,250 388.81,249.41 390.42,248.84 392.04,248.27 393.66,247.71 395.28,247.16 396.89,246.63 398.51,246.1 400.13,245.58 401.74,245.08 403.36,244.57 404.98,244.07 406.59,243.58 408.21,243.09 409.83,242.6 411.44,242.11 413.06,241.6 414.68,241.08 416.29,240.55 417.91,240.01 419.53,239.47 421.14,238.94 422.76,238.42 424.38,237.92 425.99,237.45 427.61,237 429.23,236.59 430.84,236.22 432.46,235.9 434.08,235.6 435.7,235.3 437.31,235.01 438.93,234.71 440.55,234.43 442.16,234.17 443.78,233.92 445.4,233.71 447.01,233.52 448.63,233.36 450.25,233.24 451.86,233.17 453.48,233.14 455.1,233.15 456.71,233.15 458.33,233.16 459.95,233.18 461.56,233.19 463.18,233.21 464.8,233.24 466.41,233.26 468.03,233.29 469.65,233.32 471.26,233.34 472.88,233.37 474.5,233.4 476.12,233.44 477.73,233.47 479.35,233.5 480.97,233.52 482.58,233.55 484.2,233.58 485.82,233.6" fill="none" stroke="#d01c40" stroke-width="0.9" stroke-linejoin="round" stroke-opacity="1.0"/>
<polyline points="291.8,283.24 293.42,283.03 295.03,282.83 296.65,282.63 298.27,282.44 299.88,282.25 301.5,282.05 303.12,281.84 304.73,281.62 306.35,281.39 307.97,281.15 309.58,280.89 311.2,280.59 312.82,280.27 314.44,279.92 316.05,279.55 317.67,279.18 319.29,278.8 320.9,278.41 322.52,278.02 324.14,277.61 325.75,277.19 327.37,276.77 328.99,276.34 330.6,275.9 332.22,275.46 333.84,275.02 335.45,274.57 337.07,274.14 338.69,273.7 340.3,273.27 341.92,272.86 343.54,272.45 345.15,272.05 346.77,271.65 348.39,271.25 350,270.85 351.62,270.44 353.24,270.02 354.86,269.59 356.47,269.14 358.09,268.67 359.71,268.17 361.32,267.65 362.94,267.07 364.56,266.46 366.17,265.83 367.79,265.17 369.41,264.51 371.02,263.85 372.64,263.19 374.26,262.56 375.87,261.94 377.49,261.32 379.11,260.71 380.72,260.09 382.34,259.48 383.96,258.87 385.57,258.26 387.19,257.65 388.81,257.03 390.42,256.41 392.04,255.78 393.66,255.15 395.28,254.51 396.89,253.86 398.51,253.18 400.13,252.5 401.74,251.8 403.36,251.11 404.98,250.42 406.59,249.74 408.21,249.08 409.83,248.45 411.44,247.85 413.06,247.26 414.68,246.68 416.29,246.09 417.91,245.51 419.53,244.94 421.14,244.39 422.76,243.85 424.38,243.33 425.99,242.83 427.61,242.37 429.23,241.94 430.84,241.54 432.46,241.19 434.08,240.85 435.7,240.53 437.31,240.21 438.93,239.9 440.55,239.61 442.16,239.33 443.78,239.06 445.4,238.82 447.01,238.6 448.63,238.4 450.25,238.23 451.86,238.08 453.48,237.97 455.1,237.87 456.71,237.79 458.33,237.71 459.95,237.64 461.56,237.57 463.18,237.51 464.8,237.45 466.41,237.39 468.03,237.34 469.65,237.29 471.26,237.25 472.88,237.2 474.5,237.16 476.12,237.11 477.73,237.07 479.35,237.02 480.97,236.98 482.58,236.93 484.2,236.88 485.82,236.82" fill="none" stroke="#d01c40" stroke-width="0.9" stroke-linejoin="round" stroke-opacity="1.0"/>
<polyline points="291.8,281.63 293.42,281.4 295.03,281.16 296.65,280.93 298.27,280.69 299.88,280.46 301.5,280.23 303.12,279.99 304.73,279.72 306.35,279.43 307.97,279.12 309.58,278.78 311.2,278.4 312.82,277.96 314.44,277.44 316.05,276.9 317.67,276.37 319.29,275.87 320.9,275.37 322.52,274.88 324.14,274.38 325.75,273.88 327.37,273.38 328.99,272.88 330.6,272.39 332.22,271.89 333.84,271.4 335.45,270.91 337.07,270.43 338.69,269.95 340.3,269.48 341.92,269.02 343.54,268.56 345.15,268.12 346.77,267.69 348.39,267.26 350,266.83 351.62,266.39 353.24,265.95 354.86,265.5 356.47,265.03 358.09,264.54 359.71,264.03 361.32,263.5 362.94,262.95 364.56,262.36 366.17,261.75 367.79,261.13 369.41,260.51 371.02,259.89 372.64,259.28 374.26,258.66 375.87,258.05 377.49,257.44 379.11,256.84 380.72,256.24 382.34,255.63 383.96,255.03 385.57,254.43 387.19,253.82 388.81,253.22 390.42,252.63 392.04,252.03 393.66,251.43 395.28,250.84 396.89,250.24 398.51,249.64 400.13,249.04 401.74,248.44 403.36,247.84 404.98,247.25 406.59,246.66 408.21,246.09 409.83,245.52 411.44,244.97 413.06,244.43 414.68,243.88 416.29,243.32 417.91,242.76 419.53,242.2 421.14,241.66 422.76,241.14 424.38,240.62 425.99,240.13 427.61,239.68 429.23,239.28 430.84,238.91 432.46,238.56 434.08,238.23 435.7,237.9 437.31,237.59 438.93,237.3 440.55,237.02 442.16,236.75 443.78,236.49 445.4,236.25 447.01,236.06 448.63,235.9 450.25,235.75 451.86,235.64 453.48,235.56 455.1,235.5 456.71,235.46 458.33,235.43 459.95,235.41 461.56,235.38 463.18,235.36 464.8,235.34 466.41,235.33 468.03,235.32 469.65,235.31 471.26,235.3 472.88,235.29 474.5,235.28 476.12,235.27 477.73,235.27 479.35,235.26 480.97,235.25 482.58,235.24 484.2,235.22 485.82,235.21" fill="none" stroke="#c8183c" stroke-width="0.9" stroke-linejoin="round" stroke-opacity="1.0"/>
<line x1="291.8" y1="187.7" x2="291.8" y2="311.8" stroke="#1a1a1a" stroke-width="1.1" />
<line x1="288.8" y1="305.3" x2="291.8" y2="305.3" stroke="#1a1a1a" stroke-width="0.9" />
<text x="286.5" y="307.61" font-size="6.6" font-weight="normal" text-anchor="end" fill="#222" >0</text>
<line x1="288.8" y1="282.32" x2="291.8" y2="282.32" stroke="#1a1a1a" stroke-width="0.9" />
<text x="286.5" y="284.63" font-size="6.6" font-weight="normal" text-anchor="end" fill="#222" >10</text>
<line x1="288.8" y1="259.34" x2="291.8" y2="259.34" stroke="#1a1a1a" stroke-width="0.9" />
<text x="286.5" y="261.65" font-size="6.6" font-weight="normal" text-anchor="end" fill="#222" >20</text>
<line x1="288.8" y1="236.36" x2="291.8" y2="236.36" stroke="#1a1a1a" stroke-width="0.9" />
<text x="286.5" y="238.67" font-size="6.6" font-weight="normal" text-anchor="end" fill="#222" >30</text>
<line x1="288.8" y1="213.38" x2="291.8" y2="213.38" stroke="#1a1a1a" stroke-width="0.9" />
<text x="286.5" y="215.69" font-size="6.6" font-weight="normal" text-anchor="end" fill="#222" >40</text>
<line x1="288.8" y1="190.4" x2="291.8" y2="190.4" stroke="#1a1a1a" stroke-width="0.9" />
<text x="286.5" y="192.71" font-size="6.6" font-weight="normal" text-anchor="end" fill="#222" >50</text>
<line x1="290.2" y1="293.81" x2="291.8" y2="293.81" stroke="#1a1a1a" stroke-width="0.7" />
<line x1="290.2" y1="270.83" x2="291.8" y2="270.83" stroke="#1a1a1a" stroke-width="0.7" />
<line x1="290.2" y1="247.85" x2="291.8" y2="247.85" stroke="#1a1a1a" stroke-width="0.7" />
<line x1="290.2" y1="224.87" x2="291.8" y2="224.87" stroke="#1a1a1a" stroke-width="0.7" />
<line x1="290.2" y1="201.89" x2="291.8" y2="201.89" stroke="#1a1a1a" stroke-width="0.7" />
<line x1="291.3" y1="309.5" x2="494.5" y2="309.5" stroke="#1a1a1a" stroke-width="1.1" />
<line x1="291.8" y1="309.5" x2="291.8" y2="312.3" stroke="#1a1a1a" stroke-width="0.9" />
<text x="291.8" y="320.71" font-size="6.6" font-weight="normal" text-anchor="middle" fill="#222" >0</text>
<line x1="301.91" y1="309.5" x2="301.91" y2="311.1" stroke="#1a1a1a" stroke-width="0.7" />
<line x1="312.01" y1="309.5" x2="312.01" y2="311.1" stroke="#1a1a1a" stroke-width="0.7" />
<line x1="322.12" y1="309.5" x2="322.12" y2="311.1" stroke="#1a1a1a" stroke-width="0.7" />
<line x1="332.22" y1="309.5" x2="332.22" y2="312.3" stroke="#1a1a1a" stroke-width="0.9" />
<text x="332.22" y="320.71" font-size="6.6" font-weight="normal" text-anchor="middle" fill="#222" >25</text>
<line x1="342.32" y1="309.5" x2="342.32" y2="311.1" stroke="#1a1a1a" stroke-width="0.7" />
<line x1="352.43" y1="309.5" x2="352.43" y2="311.1" stroke="#1a1a1a" stroke-width="0.7" />
<line x1="362.54" y1="309.5" x2="362.54" y2="311.1" stroke="#1a1a1a" stroke-width="0.7" />
<line x1="372.64" y1="309.5" x2="372.64" y2="312.3" stroke="#1a1a1a" stroke-width="0.9" />
<text x="372.64" y="320.71" font-size="6.6" font-weight="normal" text-anchor="middle" fill="#222" >50</text>
<line x1="382.75" y1="309.5" x2="382.75" y2="311.1" stroke="#1a1a1a" stroke-width="0.7" />
<line x1="392.85" y1="309.5" x2="392.85" y2="311.1" stroke="#1a1a1a" stroke-width="0.7" />
<line x1="402.96" y1="309.5" x2="402.96" y2="311.1" stroke="#1a1a1a" stroke-width="0.7" />
<line x1="413.06" y1="309.5" x2="413.06" y2="312.3" stroke="#1a1a1a" stroke-width="0.9" />
<text x="413.06" y="320.71" font-size="6.6" font-weight="normal" text-anchor="middle" fill="#222" >75</text>
<line x1="423.17" y1="309.5" x2="423.17" y2="311.1" stroke="#1a1a1a" stroke-width="0.7" />
<line x1="433.27" y1="309.5" x2="433.27" y2="311.1" stroke="#1a1a1a" stroke-width="0.7" />
<line x1="443.38" y1="309.5" x2="443.38" y2="311.1" stroke="#1a1a1a" stroke-width="0.7" />
<line x1="453.48" y1="309.5" x2="453.48" y2="312.3" stroke="#1a1a1a" stroke-width="0.9" />
<text x="453.48" y="320.71" font-size="6.6" font-weight="normal" text-anchor="middle" fill="#222" >100</text>
<line x1="463.59" y1="309.5" x2="463.59" y2="311.1" stroke="#1a1a1a" stroke-width="0.7" />
<line x1="473.69" y1="309.5" x2="473.69" y2="311.1" stroke="#1a1a1a" stroke-width="0.7" />
<line x1="483.8" y1="309.5" x2="483.8" y2="311.1" stroke="#1a1a1a" stroke-width="0.7" />
<line x1="493.9" y1="309.5" x2="493.9" y2="312.3" stroke="#1a1a1a" stroke-width="0.9" />
<text x="493.9" y="320.71" font-size="6.6" font-weight="normal" text-anchor="middle" fill="#222" >125</text>
<text x="394.2" y="182.87" font-size="8.2" font-weight="normal" text-anchor="middle" fill="#222" textLength="34.6" lengthAdjust="spacingAndGlyphs" >E:T = 0.5</text>
<text x="269.8" y="250.75" font-size="7" font-weight="bold" text-anchor="middle" fill="#222" textLength="80" lengthAdjust="spacingAndGlyphs" transform="rotate(-90 269.8 248.3)" >Total integrated GFP intensity</text>
<text x="394.2" y="333.33" font-size="7.8" font-weight="bold" text-anchor="middle" fill="#222" textLength="34" lengthAdjust="spacingAndGlyphs" >Time (hours)</text>
<line x1="153.8" y1="343.4" x2="161.3" y2="343.4" stroke="#e8a848" stroke-width="0.8" />
<text x="164.5" y="345.71" font-size="6.6" font-weight="normal" text-anchor="start" fill="#222" textLength="38.5" lengthAdjust="spacingAndGlyphs" >Medium alone</text>
<line x1="211.3" y1="343.4" x2="218" y2="343.4" stroke="#2a8a5a" stroke-width="0.8" />
<text x="221.3" y="345.71" font-size="6.6" font-weight="normal" text-anchor="start" fill="#222" textLength="26.2" lengthAdjust="spacingAndGlyphs" >KI-CAR T</text>
<line x1="255.5" y1="343.4" x2="262.5" y2="343.4" stroke="#a81848" stroke-width="0.8" />
<text x="266.3" y="345.71" font-size="6.6" font-weight="normal" text-anchor="start" fill="#222" textLength="26.2" lengthAdjust="spacingAndGlyphs" >LV-CAR T</text>
<line x1="300" y1="343.4" x2="307" y2="343.4" stroke="#3a98d0" stroke-width="0.8" />
<text x="310.8" y="345.71" font-size="6.6" font-weight="normal" text-anchor="start" fill="#222" textLength="14.7" lengthAdjust="spacingAndGlyphs" >Mock</text>
<line x1="333.8" y1="343.4" x2="340.5" y2="343.4" stroke="#333" stroke-width="0.8" />
<text x="343.8" y="345.71" font-size="6.6" font-weight="normal" text-anchor="start" fill="#222" textLength="49.2" lengthAdjust="spacingAndGlyphs" >No gRNA CAR19</text>
<line x1="45.9" y1="393.6" x2="45.9" y2="469.2" stroke="#1a1a1a" stroke-width="1.1" />
<line x1="45.4" y1="468.7" x2="162" y2="468.7" stroke="#1a1a1a" stroke-width="1.1" />
<line x1="42.7" y1="396.7" x2="45.9" y2="396.7" stroke="#1a1a1a" stroke-width="0.9" />
<text x="40.3" y="398.97" font-size="6.5" font-weight="normal" text-anchor="end" fill="#222" textLength="20.3" lengthAdjust="spacingAndGlyphs" >10,000</text>
<line x1="42.7" y1="414.7" x2="45.9" y2="414.7" stroke="#1a1a1a" stroke-width="0.9" />
<text x="40.3" y="416.97" font-size="6.5" font-weight="normal" text-anchor="end" fill="#222" textLength="16.2" lengthAdjust="spacingAndGlyphs" >1,000</text>
<line x1="42.7" y1="432.7" x2="45.9" y2="432.7" stroke="#1a1a1a" stroke-width="0.9" />
<text x="40.3" y="434.97" font-size="6.5" font-weight="normal" text-anchor="end" fill="#222" textLength="10.5" lengthAdjust="spacingAndGlyphs" >100</text>
<line x1="42.7" y1="450.7" x2="45.9" y2="450.7" stroke="#1a1a1a" stroke-width="0.9" />
<text x="40.3" y="452.97" font-size="6.5" font-weight="normal" text-anchor="end" fill="#222" textLength="7" lengthAdjust="spacingAndGlyphs" >10</text>
<line x1="42.7" y1="468.7" x2="45.9" y2="468.7" stroke="#1a1a1a" stroke-width="0.9" />
<text x="40.3" y="470.97" font-size="6.5" font-weight="normal" text-anchor="end" fill="#222" textLength="3.5" lengthAdjust="spacingAndGlyphs" >1</text>
<text x="11.2" y="433.95" font-size="7" font-weight="bold" text-anchor="middle" fill="#222" textLength="39" lengthAdjust="spacingAndGlyphs" transform="rotate(-90 11.2 431.5)" >IFN-γ (pg/mL)</text>
<rect x="59.5" y="439.6" width="22.8" height="29.1" fill="#0a8cdc"/>
<rect x="95.8" y="415.5" width="23.5" height="53.2" fill="#c00024"/>
<rect x="132.4" y="406.9" width="23.5" height="61.8" fill="#00a03c"/>
<line x1="70.8" y1="468.7" x2="70.8" y2="471.7" stroke="#1a1a1a" stroke-width="0.9" />
<line x1="107.5" y1="468.7" x2="107.5" y2="471.7" stroke="#1a1a1a" stroke-width="0.9" />
<line x1="144.2" y1="468.7" x2="144.2" y2="471.7" stroke="#1a1a1a" stroke-width="0.9" />
<line x1="70.7" y1="434" x2="70.7" y2="456.4" stroke="#2a2a2a" stroke-width="0.9" />
<line x1="64.9" y1="434" x2="76.6" y2="434" stroke="#2a2a2a" stroke-width="0.9" />
<line x1="64.9" y1="456.4" x2="76.6" y2="456.4" stroke="#2a2a2a" stroke-width="0.9" />
<line x1="107.3" y1="413.4" x2="107.3" y2="416.5" stroke="#2a2a2a" stroke-width="0.9" />
<line x1="101.5" y1="413.4" x2="113" y2="413.4" stroke="#2a2a2a" stroke-width="0.9" />
<line x1="101.5" y1="416.6" x2="113" y2="416.6" stroke="#2a2a2a" stroke-width="0.9" />
<line x1="144.3" y1="405.2" x2="144.3" y2="408" stroke="#2a2a2a" stroke-width="0.9" />
<line x1="138.8" y1="405.2" x2="149.9" y2="405.2" stroke="#2a2a2a" stroke-width="0.9" />
<line x1="138.8" y1="407.9" x2="149.9" y2="407.9" stroke="#2a2a2a" stroke-width="0.9" />
<polyline points="69,398 69,394 145.2,394 145.2,398" fill="none" stroke="#262626" stroke-width="1" stroke-linejoin="round" />
<polyline points="106.4,404.3 106.4,400.5 145.2,400.5 145.2,404.3" fill="none" stroke="#262626" stroke-width="1" stroke-linejoin="round" />
<polyline points="67.4,411.1 67.4,407.5 106.4,407.5 106.4,411.1" fill="none" stroke="#262626" stroke-width="1" stroke-linejoin="round" />
<text x="107.1" y="393.9" font-size="6.4" font-weight="bold" text-anchor="middle" fill="#333" style="stroke:none">*</text>
<text x="126" y="400.2" font-size="6.4" font-weight="bold" text-anchor="middle" fill="#333" style="stroke:none">*</text>
<text x="86.9" y="406.8" font-size="6.4" font-weight="bold" text-anchor="middle" fill="#333" style="stroke:none">*</text>
<text x="70.6" y="480.67" font-size="6.5" font-weight="normal" text-anchor="middle" fill="#222" textLength="14.8" lengthAdjust="spacingAndGlyphs" >Mock</text>
<text x="106.3" y="480.67" font-size="6.5" font-weight="normal" text-anchor="middle" fill="#222" textLength="26.5" lengthAdjust="spacingAndGlyphs" >LV-CAR T</text>
<text x="145.2" y="480.67" font-size="6.5" font-weight="normal" text-anchor="middle" fill="#222" textLength="25.5" lengthAdjust="spacingAndGlyphs" >KI-CAR T</text>
<line x1="207.4" y1="393.6" x2="207.4" y2="469.1" stroke="#1a1a1a" stroke-width="1.1" />
<line x1="206.9" y1="468.7" x2="324.4" y2="468.7" stroke="#1a1a1a" stroke-width="1.1" />
<line x1="204.2" y1="396.1" x2="207.4" y2="396.1" stroke="#1a1a1a" stroke-width="0.9" />
<text x="201.6" y="398.38" font-size="6.5" font-weight="normal" text-anchor="end" fill="#222" textLength="16.1" lengthAdjust="spacingAndGlyphs" >1,000</text>
<line x1="204.2" y1="420.3" x2="207.4" y2="420.3" stroke="#1a1a1a" stroke-width="0.9" />
<text x="201.6" y="422.57" font-size="6.5" font-weight="normal" text-anchor="end" fill="#222" textLength="10.5" lengthAdjust="spacingAndGlyphs" >100</text>
<line x1="204.2" y1="444.5" x2="207.4" y2="444.5" stroke="#1a1a1a" stroke-width="0.9" />
<text x="201.6" y="446.77" font-size="6.5" font-weight="normal" text-anchor="end" fill="#222" textLength="7" lengthAdjust="spacingAndGlyphs" >10</text>
<line x1="204.2" y1="468.7" x2="207.4" y2="468.7" stroke="#1a1a1a" stroke-width="0.9" />
<text x="201.6" y="470.97" font-size="6.5" font-weight="normal" text-anchor="end" fill="#222" textLength="3.5" lengthAdjust="spacingAndGlyphs" >1</text>
<text x="176.9" y="433.25" font-size="7" font-weight="bold" text-anchor="middle" fill="#222" textLength="41.5" lengthAdjust="spacingAndGlyphs" transform="rotate(-90 176.9 430.8)" >TNF-α (pg/mL)</text>
<rect x="220.2" y="450" width="23.4" height="18.7" fill="#0a8cdc"/>
<rect x="256.5" y="416.7" width="23.6" height="52" fill="#c00024"/>
<rect x="293.5" y="403.4" width="23.6" height="65.3" fill="#00a03c"/>
<line x1="231.8" y1="468.7" x2="231.8" y2="471.7" stroke="#1a1a1a" stroke-width="0.9" />
<line x1="268.4" y1="468.7" x2="268.4" y2="471.7" stroke="#1a1a1a" stroke-width="0.9" />
<line x1="305.3" y1="468.7" x2="305.3" y2="471.7" stroke="#1a1a1a" stroke-width="0.9" />
<line x1="231.7" y1="442.3" x2="231.7" y2="468.7" stroke="#2a2a2a" stroke-width="0.9" />
<line x1="226" y1="442.3" x2="237.6" y2="442.3" stroke="#2a2a2a" stroke-width="0.9" />
<line x1="262.7" y1="415.8" x2="274.3" y2="415.8" stroke="#2a2a2a" stroke-width="0.9" />
<line x1="299.6" y1="402.6" x2="311.2" y2="402.6" stroke="#2a2a2a" stroke-width="0.9" />
<polyline points="230.2,392.1 230.2,388.1 306.3,388.1 306.3,392.1" fill="none" stroke="#262626" stroke-width="1" stroke-linejoin="round" />
<polyline points="267.4,399 267.4,395.2 306.3,395.2 306.3,399" fill="none" stroke="#262626" stroke-width="1" stroke-linejoin="round" />
<polyline points="227.6,409.4 227.6,405.6 267.4,405.6 267.4,409.4" fill="none" stroke="#262626" stroke-width="1" stroke-linejoin="round" />
<text x="267.9" y="387.9" font-size="6.4" font-weight="bold" text-anchor="middle" fill="#333" style="stroke:none">**</text>
<text x="286.8" y="394.9" font-size="6.4" font-weight="bold" text-anchor="middle" fill="#333" style="stroke:none">*</text>
<text x="247.5" y="405.1" font-size="6.4" font-weight="bold" text-anchor="middle" fill="#333" style="stroke:none">**</text>
<text x="231.6" y="480.67" font-size="6.5" font-weight="normal" text-anchor="middle" fill="#222" textLength="14.8" lengthAdjust="spacingAndGlyphs" >Mock</text>
<text x="268.6" y="480.67" font-size="6.5" font-weight="normal" text-anchor="middle" fill="#222" textLength="26.9" lengthAdjust="spacingAndGlyphs" >LV-CAR T</text>
<text x="306" y="480.67" font-size="6.5" font-weight="normal" text-anchor="middle" fill="#222" textLength="26.1" lengthAdjust="spacingAndGlyphs" >KI-CAR T</text>
<line x1="370.4" y1="379.5" x2="370.4" y2="469.1" stroke="#1a1a1a" stroke-width="1.1" />
<line x1="367.4" y1="468.6" x2="513.3" y2="468.6" stroke="#1a1a1a" stroke-width="1.1" />
<line x1="367.2" y1="468.6" x2="370.4" y2="468.6" stroke="#1a1a1a" stroke-width="0.9" />
<text x="361.3" y="470.9" font-size="6.4" text-anchor="end" fill="#222">10</text>
<text x="361.8" y="468" font-size="4.2" fill="#222">6</text>
<line x1="367.2" y1="439.85" x2="370.4" y2="439.85" stroke="#1a1a1a" stroke-width="0.9" />
<text x="361.3" y="442.15" font-size="6.4" text-anchor="end" fill="#222">10</text>
<text x="361.8" y="439.25" font-size="4.2" fill="#222">7</text>
<line x1="367.2" y1="411.1" x2="370.4" y2="411.1" stroke="#1a1a1a" stroke-width="0.9" />
<text x="361.3" y="413.4" font-size="6.4" text-anchor="end" fill="#222">10</text>
<text x="361.8" y="410.5" font-size="4.2" fill="#222">8</text>
<line x1="367.2" y1="382.35" x2="370.4" y2="382.35" stroke="#1a1a1a" stroke-width="0.9" />
<text x="361.3" y="384.65" font-size="6.4" text-anchor="end" fill="#222">10</text>
<text x="361.8" y="381.75" font-size="4.2" fill="#222">9</text>
<line x1="370.4" y1="468.6" x2="370.4" y2="471.6" stroke="#1a1a1a" stroke-width="0.9" />
<text x="370.4" y="480.51" font-size="6.6" font-weight="normal" text-anchor="middle" fill="#222" >0</text>
<line x1="403.7" y1="468.6" x2="403.7" y2="471.6" stroke="#1a1a1a" stroke-width="0.9" />
<text x="403.7" y="480.51" font-size="6.6" font-weight="normal" text-anchor="middle" fill="#222" >5</text>
<line x1="437" y1="468.6" x2="437" y2="471.6" stroke="#1a1a1a" stroke-width="0.9" />
<text x="437" y="480.51" font-size="6.6" font-weight="normal" text-anchor="middle" fill="#222" >10</text>
<line x1="470.3" y1="468.6" x2="470.3" y2="471.6" stroke="#1a1a1a" stroke-width="0.9" />
<text x="470.3" y="480.51" font-size="6.6" font-weight="normal" text-anchor="middle" fill="#222" >15</text>
<line x1="503.6" y1="468.6" x2="503.6" y2="471.6" stroke="#1a1a1a" stroke-width="0.9" />
<text x="503.6" y="480.51" font-size="6.6" font-weight="normal" text-anchor="middle" fill="#222" >20</text>
<text x="344" y="426.75" font-size="7" font-weight="bold" text-anchor="middle" fill="#222" textLength="38.2" lengthAdjust="spacingAndGlyphs" transform="rotate(-90 344 424.3)" >Total flux (p/s)</text>
<text x="444" y="492.16" font-size="7.3" font-weight="bold" text-anchor="middle" fill="#222" textLength="13.5" lengthAdjust="spacingAndGlyphs" >Days</text>
<polyline points="370.4,425.6 397.04,455.6 417.02,457.3 443.66,455.5 470.3,452.3 490.28,445 510.26,435.8" fill="none" stroke="#1f9c55" stroke-width="1" stroke-linejoin="round" />
<polyline points="370.4,434.2 397.04,454.5 417.02,455.5 443.66,458 470.3,456 490.28,449 510.26,440.2" fill="none" stroke="#1f9c55" stroke-width="1" stroke-linejoin="round" />
<polyline points="370.4,434.8 397.04,456 417.02,460 443.66,458.5 470.3,464.8 490.28,459.5 510.26,452.3" fill="none" stroke="#1f9c55" stroke-width="1" stroke-linejoin="round" />
<polyline points="370.4,430 397.04,453 417.02,456.5 443.66,460.5 470.3,457 490.28,461 510.26,454" fill="none" stroke="#1f9c55" stroke-width="1" stroke-linejoin="round" />
<polyline points="370.4,418.1 397.04,441 417.02,459.4 443.66,463.4 470.3,453 490.28,443 510.26,427.7" fill="none" stroke="#a81a3c" stroke-width="1" stroke-linejoin="round" />
<polyline points="370.4,420.4 397.04,447.5 417.02,455 443.66,458.4 470.3,432.5 490.28,430 510.26,431" fill="none" stroke="#a81a3c" stroke-width="1" stroke-linejoin="round" />
<polyline points="370.4,422.1 397.04,449.2 417.02,461.3 443.66,459.5 470.3,454.5 490.28,451 510.26,445.2" fill="none" stroke="#a81a3c" stroke-width="1" stroke-linejoin="round" />
<polyline points="370.4,431.3 397.04,449.5 417.02,457.3 443.66,454.8 470.3,457.5 490.28,454.5 510.26,448.3" fill="none" stroke="#a81a3c" stroke-width="1" stroke-linejoin="round" />
<polyline points="370.4,425 397.04,452 417.02,463 443.66,465 470.3,459.5 490.28,458.5 510.26,450.3" fill="none" stroke="#a81a3c" stroke-width="1" stroke-linejoin="round" />
<line x1="402.3" y1="501" x2="409.6" y2="501" stroke="#22a05a" stroke-width="0.9" />
<text x="412.2" y="503.31" font-size="6.6" font-weight="normal" text-anchor="start" fill="#222" textLength="26.7" lengthAdjust="spacingAndGlyphs" >KI-CAR T</text>
<line x1="446.9" y1="501" x2="455" y2="501" stroke="#b8163c" stroke-width="0.9" />
<text x="458.6" y="503.31" font-size="6.6" font-weight="normal" text-anchor="start" fill="#222" textLength="26.7" lengthAdjust="spacingAndGlyphs" >LV-CAR T</text>
<line x1="36.9" y1="547.3" x2="36.9" y2="642.8" stroke="#1a1a1a" stroke-width="1.1" />
<line x1="36.4" y1="642.3" x2="185" y2="642.3" stroke="#1a1a1a" stroke-width="1.1" />
<line x1="33.9" y1="642.3" x2="36.9" y2="642.3" stroke="#1a1a1a" stroke-width="0.9" />
<text x="28.1" y="644.3" font-size="5.8" text-anchor="end" fill="#222">10</text>
<text x="28.7" y="641.4" font-size="4.0" fill="#222">0</text>
<line x1="33.9" y1="626.98" x2="36.9" y2="626.98" stroke="#1a1a1a" stroke-width="0.9" />
<text x="28.1" y="628.98" font-size="5.8" text-anchor="end" fill="#222">10</text>
<text x="28.7" y="626.08" font-size="4.0" fill="#222">1</text>
<line x1="33.9" y1="611.66" x2="36.9" y2="611.66" stroke="#1a1a1a" stroke-width="0.9" />
<text x="28.1" y="613.66" font-size="5.8" text-anchor="end" fill="#222">10</text>
<text x="28.7" y="610.76" font-size="4.0" fill="#222">2</text>
<line x1="33.9" y1="596.34" x2="36.9" y2="596.34" stroke="#1a1a1a" stroke-width="0.9" />
<text x="28.1" y="598.34" font-size="5.8" text-anchor="end" fill="#222">10</text>
<text x="28.7" y="595.44" font-size="4.0" fill="#222">3</text>
<line x1="33.9" y1="581.02" x2="36.9" y2="581.02" stroke="#1a1a1a" stroke-width="0.9" />
<text x="28.1" y="583.02" font-size="5.8" text-anchor="end" fill="#222">10</text>
<text x="28.7" y="580.12" font-size="4.0" fill="#222">4</text>
<line x1="33.9" y1="565.7" x2="36.9" y2="565.7" stroke="#1a1a1a" stroke-width="0.9" />
<text x="28.1" y="567.7" font-size="5.8" text-anchor="end" fill="#222">10</text>
<text x="28.7" y="564.8" font-size="4.0" fill="#222">5</text>
<line x1="33.9" y1="550.38" x2="36.9" y2="550.38" stroke="#1a1a1a" stroke-width="0.9" />
<text x="28.1" y="552.38" font-size="5.8" text-anchor="end" fill="#222">10</text>
<text x="28.7" y="549.48" font-size="4.0" fill="#222">6</text>
<text x="11" y="598.45" font-size="7" font-weight="bold" text-anchor="middle" fill="#222" textLength="44.5" lengthAdjust="spacingAndGlyphs" transform="rotate(-90 11 596)" >Cell count per mL</text>
<rect x="42.1" y="565.4" width="8.8" height="76.9" fill="#00a03c"/>
<rect x="56.6" y="571.7" width="8.8" height="70.6" fill="#c00024"/>
<line x1="53.7" y1="642.3" x2="53.7" y2="645.3" stroke="#1a1a1a" stroke-width="0.9" />
<line x1="46.5" y1="562.4" x2="46.5" y2="568.9" stroke="#2a3a5a" stroke-width="0.8" />
<line x1="44.5" y1="562.4" x2="48.5" y2="562.4" stroke="#2a3a5a" stroke-width="0.8" />
<line x1="44.5" y1="568.9" x2="48.5" y2="568.9" stroke="#2a3a5a" stroke-width="0.8" />
<circle cx="46.5" cy="560.2" r="0.55" fill="#333"/>
<line x1="59.2" y1="570.9" x2="62.8" y2="570.9" stroke="#2a3a5a" stroke-width="0.8" />
<line x1="61" y1="569.7" x2="61" y2="572.7" stroke="#2a3a5a" stroke-width="0.8" />
<circle cx="59.5" cy="569.9" r="0.55" fill="#2a3a5a"/>
<circle cx="62.5" cy="569.9" r="0.55" fill="#2a3a5a"/>
<polyline points="46.5,556.2 46.5,554.2 60.9,554.2 60.9,556.2" fill="none" stroke="#262626" stroke-width="1" stroke-linejoin="round" />
<rect x="80.3" y="566.8" width="8.8" height="75.5" fill="#00a03c"/>
<rect x="94.8" y="573.2" width="8.8" height="69.1" fill="#c00024"/>
<line x1="91.9" y1="642.3" x2="91.9" y2="645.3" stroke="#1a1a1a" stroke-width="0.9" />
<line x1="84.7" y1="563.8" x2="84.7" y2="570.3" stroke="#2a3a5a" stroke-width="0.8" />
<line x1="82.7" y1="563.8" x2="86.7" y2="563.8" stroke="#2a3a5a" stroke-width="0.8" />
<line x1="82.7" y1="570.3" x2="86.7" y2="570.3" stroke="#2a3a5a" stroke-width="0.8" />
<circle cx="84.7" cy="561.6" r="0.55" fill="#333"/>
<line x1="97.4" y1="572.4" x2="101" y2="572.4" stroke="#2a3a5a" stroke-width="0.8" />
<line x1="99.2" y1="571.2" x2="99.2" y2="574.2" stroke="#2a3a5a" stroke-width="0.8" />
<circle cx="97.7" cy="571.4" r="0.55" fill="#2a3a5a"/>
<circle cx="100.7" cy="571.4" r="0.55" fill="#2a3a5a"/>
<polyline points="84.7,556.2 84.7,554.2 99.1,554.2 99.1,556.2" fill="none" stroke="#262626" stroke-width="1" stroke-linejoin="round" />
<rect x="118.5" y="578.1" width="8.8" height="64.2" fill="#00a03c"/>
<rect x="133" y="582.4" width="8.8" height="59.9" fill="#c00024"/>
<line x1="130.1" y1="642.3" x2="130.1" y2="645.3" stroke="#1a1a1a" stroke-width="0.9" />
<line x1="122.9" y1="575.1" x2="122.9" y2="581.6" stroke="#2a3a5a" stroke-width="0.8" />
<line x1="120.9" y1="575.1" x2="124.9" y2="575.1" stroke="#2a3a5a" stroke-width="0.8" />
<line x1="120.9" y1="581.6" x2="124.9" y2="581.6" stroke="#2a3a5a" stroke-width="0.8" />
<circle cx="122.9" cy="572.9" r="0.55" fill="#333"/>
<line x1="135.6" y1="581.6" x2="139.2" y2="581.6" stroke="#2a3a5a" stroke-width="0.8" />
<line x1="137.4" y1="580.4" x2="137.4" y2="583.4" stroke="#2a3a5a" stroke-width="0.8" />
<circle cx="135.9" cy="580.6" r="0.55" fill="#2a3a5a"/>
<circle cx="138.9" cy="580.6" r="0.55" fill="#2a3a5a"/>
<polyline points="122.9,556.2 122.9,554.2 137.3,554.2 137.3,556.2" fill="none" stroke="#262626" stroke-width="1" stroke-linejoin="round" />
<rect x="156.7" y="580" width="8.8" height="62.3" fill="#00a03c"/>
<rect x="171.2" y="591.4" width="8.8" height="50.9" fill="#c00024"/>
<line x1="168.3" y1="642.3" x2="168.3" y2="645.3" stroke="#1a1a1a" stroke-width="0.9" />
<line x1="161.1" y1="577" x2="161.1" y2="583.5" stroke="#2a3a5a" stroke-width="0.8" />
<line x1="159.1" y1="577" x2="163.1" y2="577" stroke="#2a3a5a" stroke-width="0.8" />
<line x1="159.1" y1="583.5" x2="163.1" y2="583.5" stroke="#2a3a5a" stroke-width="0.8" />
<circle cx="161.1" cy="574.8" r="0.55" fill="#333"/>
<line x1="173.8" y1="590.6" x2="177.4" y2="590.6" stroke="#2a3a5a" stroke-width="0.8" />
<line x1="175.6" y1="589.4" x2="175.6" y2="592.4" stroke="#2a3a5a" stroke-width="0.8" />
<circle cx="174.1" cy="589.6" r="0.55" fill="#2a3a5a"/>
<circle cx="177.1" cy="589.6" r="0.55" fill="#2a3a5a"/>
<polyline points="161.1,556.2 161.1,554.2 175.5,554.2 175.5,556.2" fill="none" stroke="#262626" stroke-width="1" stroke-linejoin="round" />
<text x="55.3" y="653.01" font-size="6.9" font-weight="normal" text-anchor="end" fill="#222" textLength="41.5" lengthAdjust="spacingAndGlyphs" transform="rotate(-45 55.3 650.6)" >Lymph/CD45+</text>
<text x="93.5" y="653.01" font-size="6.9" font-weight="normal" text-anchor="end" fill="#222" textLength="49.5" lengthAdjust="spacingAndGlyphs" transform="rotate(-45 93.5 650.6)" >CD45+/CAR19+</text>
<text x="131.7" y="653.01" font-size="6.9" font-weight="normal" text-anchor="end" fill="#222" textLength="46.5" lengthAdjust="spacingAndGlyphs" transform="rotate(-45 131.7 650.6)" >CAR19+/CD4+</text>
<text x="169.9" y="653.01" font-size="6.9" font-weight="normal" text-anchor="end" fill="#222" textLength="47" lengthAdjust="spacingAndGlyphs" transform="rotate(-45 169.9 650.6)" >CAR19+/CD8+</text>
<text x="53.8" y="551.3" font-size="6.4" text-anchor="middle" fill="#222">ns</text>
<text x="92.0" y="551.3" font-size="6.4" text-anchor="middle" fill="#222">ns</text>
<text x="130.2" y="551.3" font-size="6.4" text-anchor="middle" fill="#222">ns</text>
<text x="168.4" y="553.6" font-size="6.4" font-weight="bold" text-anchor="middle" fill="#333" style="stroke:none">*</text>
<rect x="73.8" y="692.5" width="3.6" height="3.6" fill="#10944a"/>
<text x="80.7" y="696.75" font-size="6.7" font-weight="normal" text-anchor="start" fill="#222" textLength="25.3" lengthAdjust="spacingAndGlyphs" >KI-CAR T</text>
<rect x="114.8" y="692.5" width="3.6" height="3.6" fill="#b80f38"/>
<text x="121.9" y="696.75" font-size="6.7" font-weight="normal" text-anchor="start" fill="#222" textLength="26.6" lengthAdjust="spacingAndGlyphs" >LV-CAR T</text>
<line x1="229.4" y1="546.2" x2="229.4" y2="630.8" stroke="#1a1a1a" stroke-width="1.1" />
<line x1="227.8" y1="630.6" x2="231" y2="630.6" stroke="#1a1a1a" stroke-width="0.9" />
<line x1="227.8" y1="633.7" x2="231" y2="633.7" stroke="#1a1a1a" stroke-width="0.9" />
<line x1="229.4" y1="633.6" x2="229.4" y2="642.8" stroke="#1a1a1a" stroke-width="1.1" />
<line x1="226.4" y1="642.4" x2="345.5" y2="642.4" stroke="#1a1a1a" stroke-width="1.1" />
<text x="219.5" y="632.5" font-size="5.8" text-anchor="end" fill="#222">10</text>
<text x="220.1" y="629.6" font-size="4.0" fill="#222">2</text>
<line x1="226.4" y1="603.2" x2="229.4" y2="603.2" stroke="#1a1a1a" stroke-width="0.9" />
<text x="219.5" y="605.2" font-size="5.8" text-anchor="end" fill="#222">10</text>
<text x="220.1" y="602.3" font-size="4.0" fill="#222">3</text>
<line x1="226.4" y1="575.9" x2="229.4" y2="575.9" stroke="#1a1a1a" stroke-width="0.9" />
<text x="219.5" y="577.9" font-size="5.8" text-anchor="end" fill="#222">10</text>
<text x="220.1" y="575" font-size="4.0" fill="#222">4</text>
<line x1="226.4" y1="548.6" x2="229.4" y2="548.6" stroke="#1a1a1a" stroke-width="0.9" />
<text x="219.5" y="550.6" font-size="5.8" text-anchor="end" fill="#222">10</text>
<text x="220.1" y="547.7" font-size="4.0" fill="#222">5</text>
<text x="223.4" y="644.94" font-size="6.4" font-weight="normal" text-anchor="end" fill="#222" textLength="10.7" lengthAdjust="spacingAndGlyphs" >&lt;10</text>
<text x="205.8" y="597.45" font-size="7" font-weight="bold" text-anchor="middle" fill="#222" textLength="46" lengthAdjust="spacingAndGlyphs" transform="rotate(-90 205.8 595)" >Cell count per mL</text>
<text x="289.4" y="541.27" font-size="8.2" font-weight="normal" text-anchor="middle" fill="#222" textLength="51" lengthAdjust="spacingAndGlyphs" >CD8+ T cells</text>
<line x1="244.5" y1="642.4" x2="244.5" y2="645.2" stroke="#1a1a1a" stroke-width="0.9" />
<circle cx="238.3" cy="577.3" r="1.1" fill="#178e4c"/>
<circle cx="235.4" cy="594.2" r="1.1" fill="#178e4c"/>
<circle cx="241.2" cy="594.2" r="1.1" fill="#178e4c"/>
<circle cx="241" cy="585.6" r="1.1" fill="#178e4c"/>
<rect x="245.8" y="602.6" width="2.2" height="2.2" fill="#b40f3a"/>
<rect x="251.6" y="602.6" width="2.2" height="2.2" fill="#b40f3a"/>
<rect x="248.7" y="615.9" width="2.2" height="2.2" fill="#b40f3a"/>
<rect x="245.9" y="607.7" width="2.2" height="2.2" fill="#b40f3a"/>
<rect x="251.5" y="607.7" width="2.2" height="2.2" fill="#b40f3a"/>
<line x1="234.6" y1="586.3" x2="241.6" y2="586.3" stroke="#24503a" stroke-width="1" />
<line x1="245.9" y1="608.8" x2="253.8" y2="608.8" stroke="#70182e" stroke-width="1" />
<polyline points="238.3,562.8 238.3,561 249.8,561 249.8,562.8" fill="none" stroke="#262626" stroke-width="1" stroke-linejoin="round" />
<text x="244.05" y="560" font-size="6.4" font-weight="bold" text-anchor="middle" fill="#333" style="stroke:none">*</text>
<text x="236" y="654.3" font-size="6.6" fill="#222">T<tspan font-size="4.4" dy="1.4">N</tspan><tspan dy="-1.4">-like</tspan></text>
<line x1="275" y1="642.4" x2="275" y2="645.2" stroke="#1a1a1a" stroke-width="0.9" />
<circle cx="269" cy="570.1" r="1.1" fill="#178e4c"/>
<circle cx="269" cy="575.9" r="1.1" fill="#178e4c"/>
<circle cx="269" cy="595.8" r="1.1" fill="#178e4c"/>
<circle cx="266.6" cy="586" r="1.1" fill="#178e4c"/>
<circle cx="271.6" cy="586" r="1.1" fill="#178e4c"/>
<rect x="279.4" y="592.8" width="2.2" height="2.2" fill="#b40f3a"/>
<rect x="279.4" y="596.7" width="2.2" height="2.2" fill="#b40f3a"/>
<rect x="279.4" y="607.7" width="2.2" height="2.2" fill="#b40f3a"/>
<rect x="277.2" y="599.6" width="2.2" height="2.2" fill="#b40f3a"/>
<rect x="281.9" y="599.6" width="2.2" height="2.2" fill="#b40f3a"/>
<line x1="265.7" y1="586" x2="272.6" y2="586" stroke="#24503a" stroke-width="1" />
<line x1="277.2" y1="600.7" x2="284.1" y2="600.7" stroke="#70182e" stroke-width="1" />
<polyline points="268.6,562.8 268.6,561 280.6,561 280.6,562.8" fill="none" stroke="#262626" stroke-width="1" stroke-linejoin="round" />
<text x="274.6" y="560" font-size="6.4" font-weight="bold" text-anchor="middle" fill="#333" style="stroke:none">*</text>
<text x="269.8" y="654.3" font-size="6.6" fill="#222">T<tspan font-size="4.4" dy="1.4">CM</tspan><tspan dy="-1.4"></tspan></text>
<line x1="305.5" y1="642.4" x2="305.5" y2="645.2" stroke="#1a1a1a" stroke-width="0.9" />
<circle cx="299.6" cy="616.7" r="1.1" fill="#178e4c"/>
<line x1="296.2" y1="642.4" x2="303.7" y2="642.4" stroke="#1f8448" stroke-width="2" />
<line x1="307.4" y1="642.4" x2="314.9" y2="642.4" stroke="#a8183c" stroke-width="2" />
<text x="300.5" y="654.3" font-size="6.6" fill="#222">T<tspan font-size="4.4" dy="1.4">EM</tspan><tspan dy="-1.4"></tspan></text>
<line x1="335" y1="642.4" x2="335" y2="645.2" stroke="#1a1a1a" stroke-width="0.9" />
<line x1="326.9" y1="642.4" x2="333.9" y2="642.4" stroke="#1f8448" stroke-width="2" />
<line x1="336.6" y1="642.4" x2="345" y2="642.4" stroke="#a8183c" stroke-width="2" />
<text x="328.6" y="654.3" font-size="6.6" fill="#222">T<tspan font-size="4.4" dy="1.4">EMRA</tspan><tspan dy="-1.4"></tspan></text>
<line x1="389.6" y1="546.2" x2="389.6" y2="630.8" stroke="#1a1a1a" stroke-width="1.1" />
<line x1="388" y1="630.6" x2="391.2" y2="630.6" stroke="#1a1a1a" stroke-width="0.9" />
<line x1="388" y1="633.7" x2="391.2" y2="633.7" stroke="#1a1a1a" stroke-width="0.9" />
<line x1="389.6" y1="633.6" x2="389.6" y2="642.8" stroke="#1a1a1a" stroke-width="1.1" />
<line x1="386.6" y1="642.4" x2="510.5" y2="642.4" stroke="#1a1a1a" stroke-width="1.1" />
<text x="379.7" y="632.5" font-size="5.8" text-anchor="end" fill="#222">10</text>
<text x="380.3" y="629.6" font-size="4.0" fill="#222">2</text>
<line x1="386.6" y1="603.2" x2="389.6" y2="603.2" stroke="#1a1a1a" stroke-width="0.9" />
<text x="379.7" y="605.2" font-size="5.8" text-anchor="end" fill="#222">10</text>
<text x="380.3" y="602.3" font-size="4.0" fill="#222">3</text>
<line x1="386.6" y1="575.9" x2="389.6" y2="575.9" stroke="#1a1a1a" stroke-width="0.9" />
<text x="379.7" y="577.9" font-size="5.8" text-anchor="end" fill="#222">10</text>
<text x="380.3" y="575" font-size="4.0" fill="#222">4</text>
<line x1="386.6" y1="548.6" x2="389.6" y2="548.6" stroke="#1a1a1a" stroke-width="0.9" />
<text x="379.7" y="550.6" font-size="5.8" text-anchor="end" fill="#222">10</text>
<text x="380.3" y="547.7" font-size="4.0" fill="#222">5</text>
<text x="383.6" y="644.94" font-size="6.4" font-weight="normal" text-anchor="end" fill="#222" textLength="10.7" lengthAdjust="spacingAndGlyphs" >&lt;10</text>
<text x="366" y="597.45" font-size="7" font-weight="bold" text-anchor="middle" fill="#222" textLength="46" lengthAdjust="spacingAndGlyphs" transform="rotate(-90 366 595)" >Cell count per mL</text>
<text x="450.5" y="541.27" font-size="8.2" font-weight="normal" text-anchor="middle" fill="#222" textLength="51" lengthAdjust="spacingAndGlyphs" >CD4+ T cells</text>
<line x1="405.2" y1="642.4" x2="405.2" y2="645.2" stroke="#1a1a1a" stroke-width="0.9" />
<circle cx="400.8" cy="575.4" r="1.1" fill="#178e4c"/>
<circle cx="400.8" cy="581.8" r="1.1" fill="#178e4c"/>
<circle cx="400.8" cy="585.9" r="1.1" fill="#178e4c"/>
<circle cx="397.5" cy="590.2" r="1.1" fill="#178e4c"/>
<circle cx="400.8" cy="590.2" r="1.1" fill="#178e4c"/>
<circle cx="404" cy="590.2" r="1.1" fill="#178e4c"/>
<rect x="407.9" y="589.1" width="2.2" height="2.2" fill="#b40f3a"/>
<rect x="414.2" y="590.2" width="2.2" height="2.2" fill="#b40f3a"/>
<rect x="411.2" y="593.1" width="2.2" height="2.2" fill="#b40f3a"/>
<rect x="410.9" y="607.9" width="2.2" height="2.2" fill="#b40f3a"/>
<line x1="397" y1="586.3" x2="404.6" y2="586.3" stroke="#24503a" stroke-width="1" />
<line x1="408" y1="595.6" x2="416.2" y2="595.6" stroke="#70182e" stroke-width="1" />
<polyline points="400.8,559.7 400.8,557.9 412.3,557.9 412.3,559.7" fill="none" stroke="#262626" stroke-width="1" stroke-linejoin="round" />
<text x="406.55" y="553.2" font-size="6.4" text-anchor="middle" fill="#222">ns</text>
<text x="397.2" y="654.3" font-size="6.6" fill="#222">T<tspan font-size="4.4" dy="1.4">N</tspan><tspan dy="-1.4">-like</tspan></text>
<line x1="436.9" y1="642.4" x2="436.9" y2="645.2" stroke="#1a1a1a" stroke-width="0.9" />
<circle cx="431.5" cy="563.8" r="1.1" fill="#178e4c"/>
<circle cx="434.2" cy="576.7" r="1.1" fill="#178e4c"/>
<circle cx="428.2" cy="590.2" r="1.1" fill="#178e4c"/>
<circle cx="434.1" cy="590.2" r="1.1" fill="#178e4c"/>
<rect x="438.5" y="582.7" width="2.2" height="2.2" fill="#b40f3a"/>
<rect x="441.4" y="578.9" width="2.2" height="2.2" fill="#b40f3a"/>
<rect x="442.7" y="581.1" width="2.2" height="2.2" fill="#b40f3a"/>
<rect x="444.9" y="582.5" width="2.2" height="2.2" fill="#b40f3a"/>
<rect x="439.9" y="580.9" width="2.2" height="2.2" fill="#b40f3a"/>
<line x1="426.4" y1="579.2" x2="434.5" y2="579.2" stroke="#24503a" stroke-width="1" />
<line x1="438.8" y1="582" x2="446.5" y2="582" stroke="#70182e" stroke-width="1" />
<polyline points="431.5,559.7 431.5,557.9 443.1,557.9 443.1,559.7" fill="none" stroke="#262626" stroke-width="1" stroke-linejoin="round" />
<text x="437.3" y="553.2" font-size="6.4" text-anchor="middle" fill="#222">ns</text>
<text x="431.8" y="654.3" font-size="6.6" fill="#222">T<tspan font-size="4.4" dy="1.4">CM</tspan><tspan dy="-1.4"></tspan></text>
<line x1="468.6" y1="642.4" x2="468.6" y2="645.2" stroke="#1a1a1a" stroke-width="0.9" />
<circle cx="460" cy="617.4" r="1.1" fill="#178e4c"/>
<circle cx="463.7" cy="617.4" r="1.1" fill="#178e4c"/>
<rect x="472.2" y="607.6" width="2.2" height="2.2" fill="#b40f3a"/>
<line x1="458" y1="642.4" x2="466.6" y2="642.4" stroke="#1f8448" stroke-width="2" />
<line x1="469.5" y1="642.4" x2="478.2" y2="642.4" stroke="#a8183c" stroke-width="2" />
<text x="463.6" y="654.3" font-size="6.6" fill="#222">T<tspan font-size="4.4" dy="1.4">EM</tspan><tspan dy="-1.4"></tspan></text>
<line x1="500.4" y1="642.4" x2="500.4" y2="645.2" stroke="#1a1a1a" stroke-width="0.9" />
<circle cx="489.7" cy="608.7" r="1.1" fill="#178e4c"/>
<circle cx="496" cy="608.7" r="1.1" fill="#178e4c"/>
<circle cx="493.4" cy="617.4" r="1.1" fill="#178e4c"/>
<rect x="503" y="616.3" width="2.2" height="2.2" fill="#b40f3a"/>
<line x1="488.8" y1="642.4" x2="496.9" y2="642.4" stroke="#1f8448" stroke-width="2" />
<line x1="499.8" y1="642.4" x2="508.4" y2="642.4" stroke="#a8183c" stroke-width="2" />
<text x="490.4" y="654.3" font-size="6.6" fill="#222">T<tspan font-size="4.4" dy="1.4">EMRA</tspan><tspan dy="-1.4"></tspan></text>
<circle cx="335.1" cy="664.3" r="1.9" fill="#189a50"/>
<text x="339.7" y="666.61" font-size="6.6" font-weight="normal" text-anchor="start" fill="#222" textLength="26.5" lengthAdjust="spacingAndGlyphs" >KI-CAR T</text>
<rect x="374.4" y="662.5" width="3.6" height="3.6" fill="#b80f3a"/>
<text x="380.8" y="666.61" font-size="6.6" font-weight="normal" text-anchor="start" fill="#222" textLength="27.2" lengthAdjust="spacingAndGlyphs" >LV-CAR T</text>
<rect x="0.5" y="0.5" width="519" height="703" fill="none" stroke="#474747" stroke-width="1"/>
</svg>
</body></html>
